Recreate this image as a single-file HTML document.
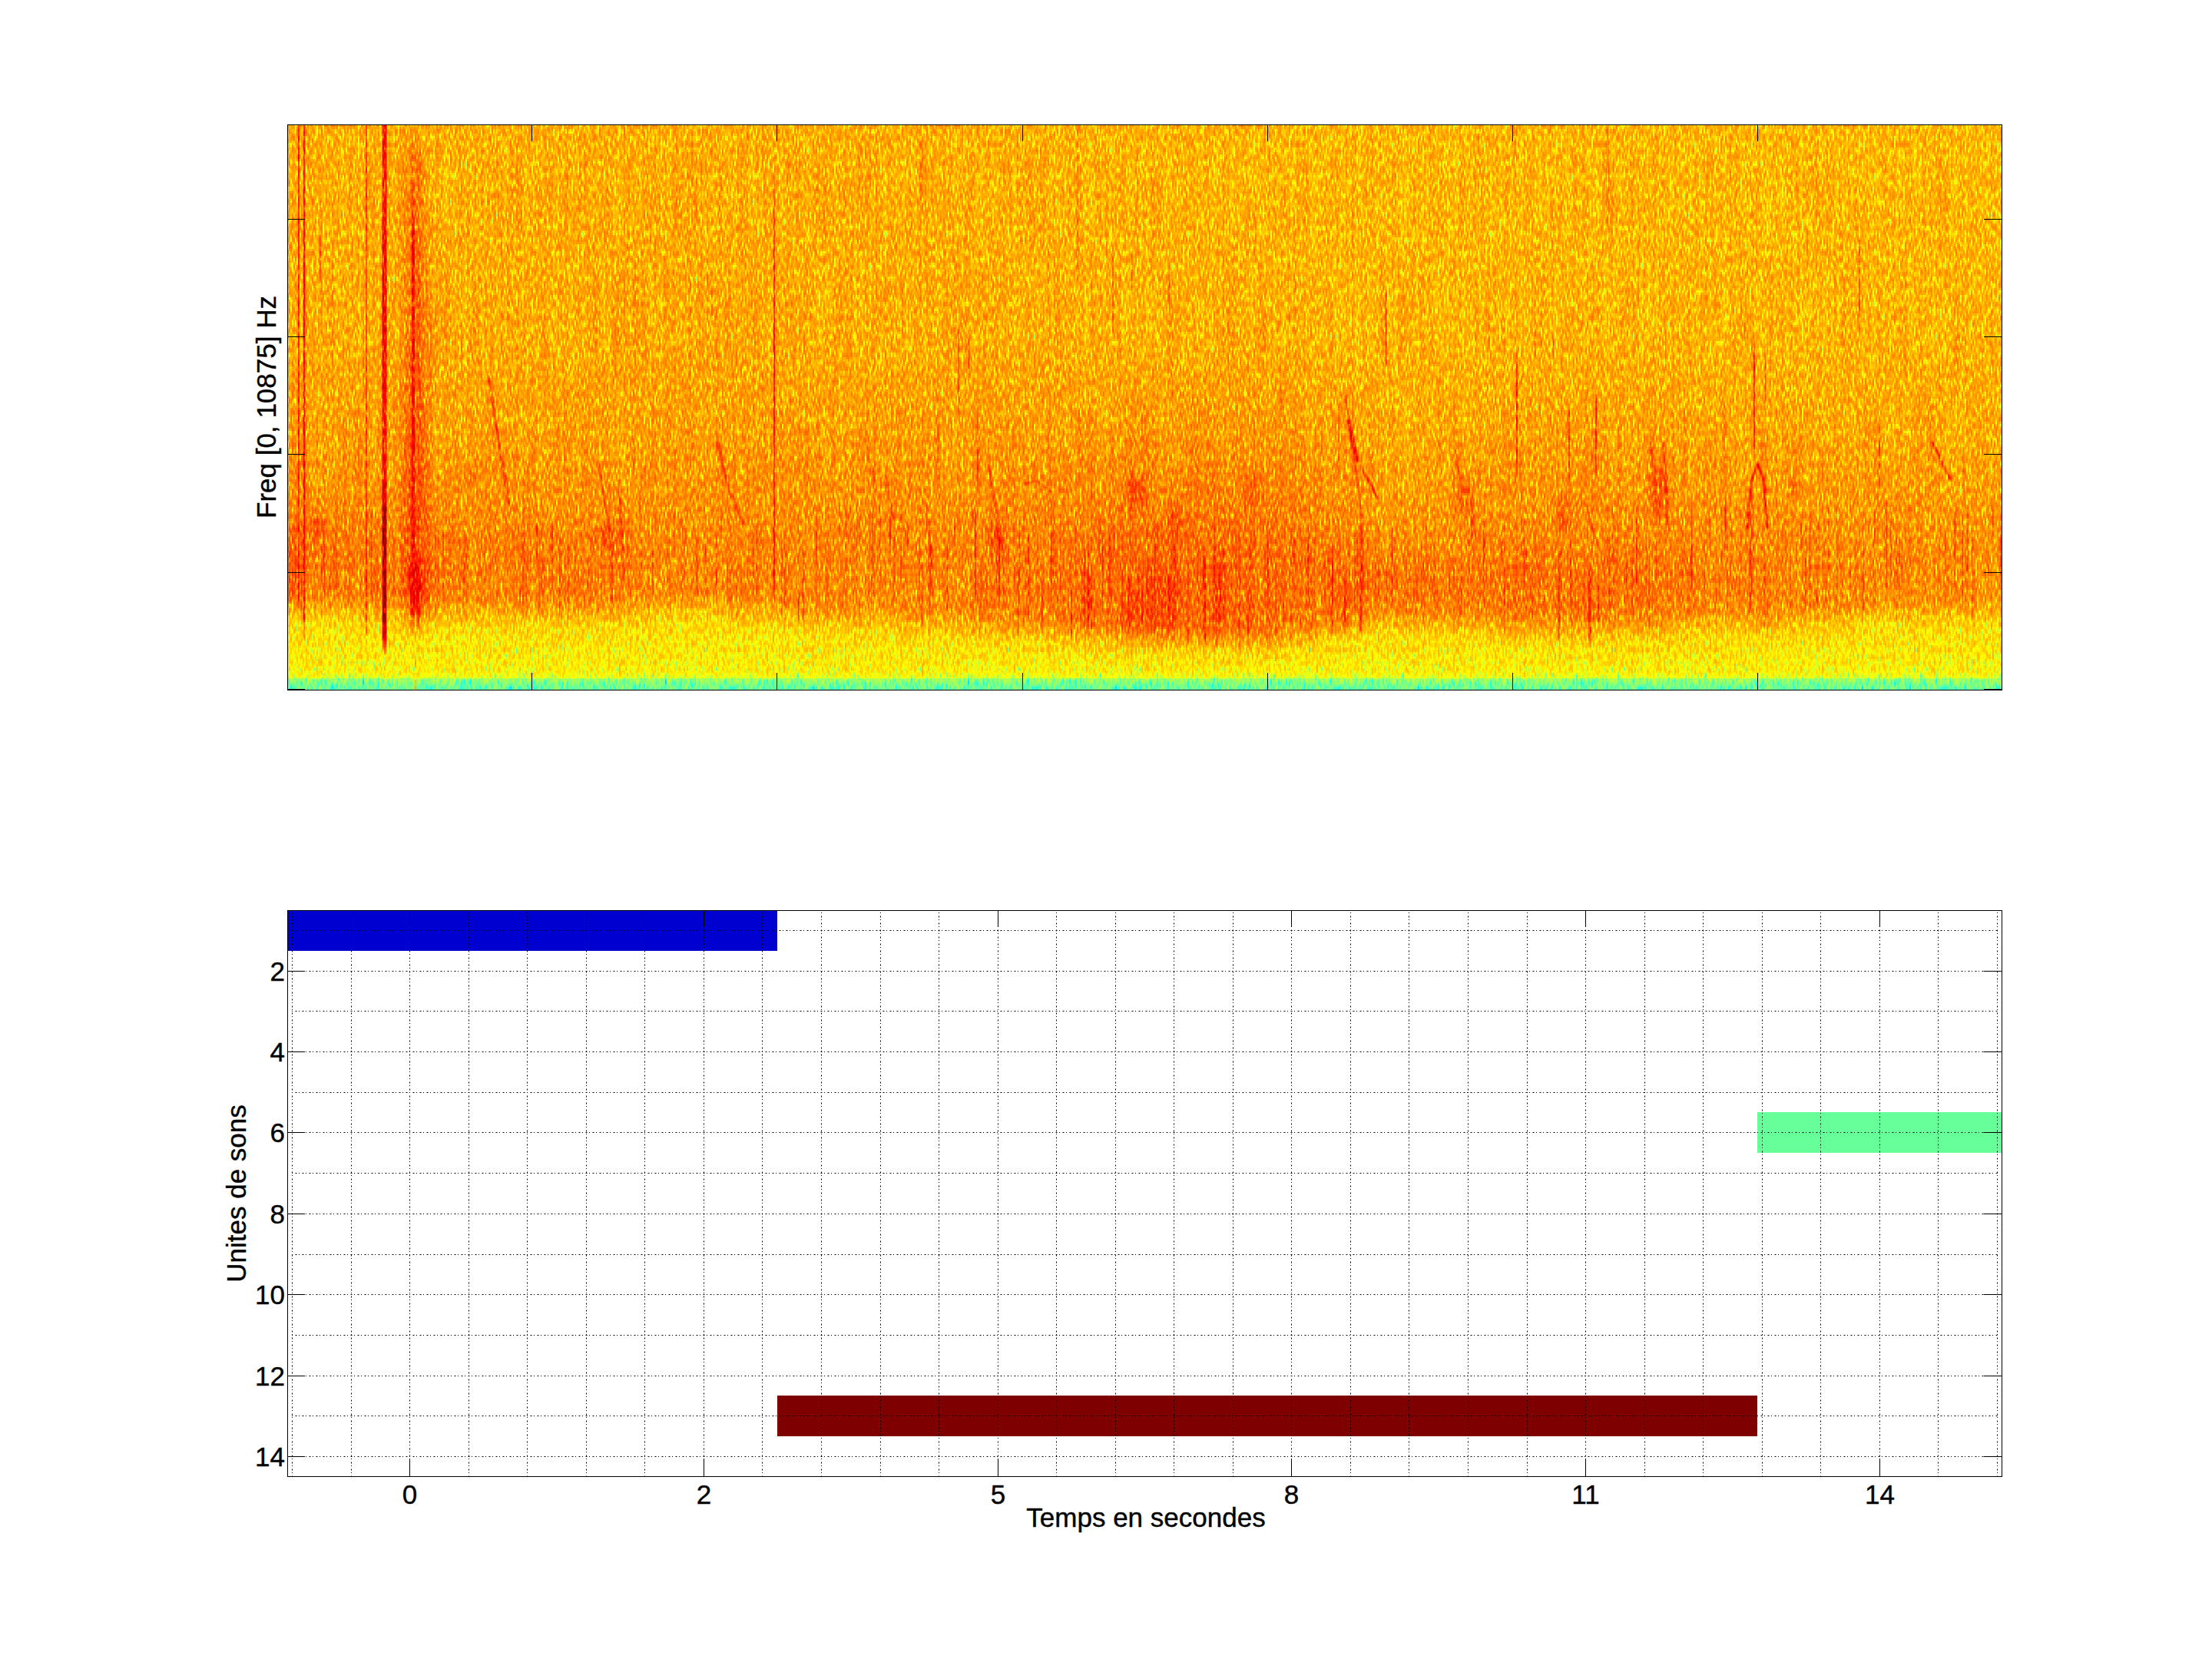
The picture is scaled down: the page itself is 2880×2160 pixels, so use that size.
<!DOCTYPE html>
<html><head><meta charset="utf-8"><style>
html,body{margin:0;padding:0;background:#fff;}
body{width:2880px;height:2160px;overflow:hidden;position:relative;}
svg{position:absolute;left:0;top:0;}
.t{font-family:"Liberation Sans",sans-serif;font-size:35px;fill:#000;stroke:#000;stroke-width:0.4px;}
</style></head><body>
<svg width="2880" height="2160" viewBox="0 0 2880 2160">
<defs>
<filter id="jet" x="374" y="162" width="2232" height="736" filterUnits="userSpaceOnUse" color-interpolation-filters="sRGB">
<feTurbulence type="fractalNoise" baseFrequency="0.65 0.12" numOctaves="1" seed="7" result="n0"/>
<feColorMatrix in="n0" type="matrix" values="1 0 0 0 0  1 0 0 0 0  1 0 0 0 0  0 0 0 0 1" result="n1"/>
<feComponentTransfer in="n1" result="n"><feFuncR type="gamma" amplitude="-1" exponent="3" offset="1"/><feFuncG type="gamma" amplitude="-1" exponent="3" offset="1"/><feFuncB type="gamma" amplitude="-1" exponent="3" offset="1"/></feComponentTransfer>
<feFlood flood-color="#fff" x="374" y="162" width="1" height="1" result="dot"/>
<feComposite in="dot" in2="dot" operator="over" x="374" y="162" width="2" height="3" result="cell"/>
<feTile in="cell" x="374" y="162" width="2232" height="736" result="grid"/>
<feComposite in="n" in2="grid" operator="in" result="samp"/>
<feOffset in="samp" dx="1" result="s1"/>
<feMerge result="row"><feMergeNode in="samp"/><feMergeNode in="s1"/></feMerge>
<feOffset in="row" dy="1" result="r1"/>
<feOffset in="row" dy="2" result="r2"/>
<feMerge result="blk"><feMergeNode in="row"/><feMergeNode in="r1"/><feMergeNode in="r2"/></feMerge>
<feFlood flood-color="#000" result="blackbg"/>
<feMerge result="blk2"><feMergeNode in="blackbg"/><feMergeNode in="blk"/></feMerge>
<feTurbulence type="fractalNoise" baseFrequency="0.25 0.006" numOctaves="2" seed="3" result="st0"/>
<feColorMatrix in="st0" type="matrix" values="1 0 0 0 0  1 0 0 0 0  1 0 0 0 0  0 0 0 0 1" result="st"/>
<feComposite in="SourceGraphic" in2="blk2" operator="arithmetic" k1="0" k2="1" k3="0.42" k4="-0.36119999999999997" result="v1"/>
<feComposite in="v1" in2="st" operator="arithmetic" k1="0" k2="1" k3="0.08" k4="-0.04" result="v"/>
<feComponentTransfer in="v">
<feFuncR type="table" tableValues="0 0 0 0 0.5 1 1 1 0.5"/>
<feFuncG type="table" tableValues="0 0 0.5 1 1 1 0.5 0 0"/>
<feFuncB type="table" tableValues="0.5 1 1 1 0.5 0 0 0 0"/>
<feFuncA type="identity"/>
</feComponentTransfer>
</filter>
<filter id="bl0" x="-50%" y="-50%" width="200%" height="200%"><feGaussianBlur stdDeviation="0.6 3"/></filter>
<filter id="bl1" x="-50%" y="-50%" width="200%" height="200%"><feGaussianBlur stdDeviation="1.2"/></filter>
<filter id="bl2" x="-50%" y="-50%" width="200%" height="200%"><feGaussianBlur stdDeviation="6"/></filter>
<filter id="bl3" x="-50%" y="-50%" width="200%" height="200%"><feGaussianBlur stdDeviation="14"/></filter>
<linearGradient id="c0" x1="0" y1="162" x2="0" y2="898" gradientUnits="userSpaceOnUse"><stop offset="0" stop-color="#b3b3b3"/><stop offset="0.39" stop-color="#b4b4b4"/><stop offset="0.54" stop-color="#b7b7b7"/><stop offset="0.72" stop-color="#bdbdbd"/><stop offset="0.77" stop-color="#bebebe"/><stop offset="0.83" stop-color="#bebebe"/><stop offset="0.88" stop-color="#a8a8a8"/><stop offset="0.97" stop-color="#a1a1a1"/><stop offset="0.98" stop-color="#969696"/><stop offset="0.98" stop-color="#888888"/><stop offset="0.99" stop-color="#7d7d7d"/><stop offset="1" stop-color="#797979"/></linearGradient>
<linearGradient id="c1" x1="0" y1="162" x2="0" y2="898" gradientUnits="userSpaceOnUse"><stop offset="0" stop-color="#b3b3b3"/><stop offset="0.39" stop-color="#b4b4b4"/><stop offset="0.54" stop-color="#b7b7b7"/><stop offset="0.72" stop-color="#bdbdbd"/><stop offset="0.77" stop-color="#bebebe"/><stop offset="0.83" stop-color="#bebebe"/><stop offset="0.88" stop-color="#a8a8a8"/><stop offset="0.97" stop-color="#a1a1a1"/><stop offset="0.98" stop-color="#969696"/><stop offset="0.98" stop-color="#888888"/><stop offset="0.99" stop-color="#7d7d7d"/><stop offset="1" stop-color="#797979"/></linearGradient>
<linearGradient id="c2" x1="0" y1="162" x2="0" y2="898" gradientUnits="userSpaceOnUse"><stop offset="0" stop-color="#b3b3b3"/><stop offset="0.39" stop-color="#b4b4b4"/><stop offset="0.54" stop-color="#b7b7b7"/><stop offset="0.72" stop-color="#bdbdbd"/><stop offset="0.77" stop-color="#bebebe"/><stop offset="0.83" stop-color="#bebebe"/><stop offset="0.88" stop-color="#a8a8a8"/><stop offset="0.97" stop-color="#a1a1a1"/><stop offset="0.98" stop-color="#969696"/><stop offset="0.98" stop-color="#888888"/><stop offset="0.99" stop-color="#7d7d7d"/><stop offset="1" stop-color="#797979"/></linearGradient>
<linearGradient id="c3" x1="0" y1="162" x2="0" y2="898" gradientUnits="userSpaceOnUse"><stop offset="0" stop-color="#b3b3b3"/><stop offset="0.39" stop-color="#b4b4b4"/><stop offset="0.54" stop-color="#b7b7b7"/><stop offset="0.72" stop-color="#bebebe"/><stop offset="0.77" stop-color="#bfbfbf"/><stop offset="0.83" stop-color="#bfbfbf"/><stop offset="0.88" stop-color="#a8a8a8"/><stop offset="0.97" stop-color="#a1a1a1"/><stop offset="0.98" stop-color="#969696"/><stop offset="0.98" stop-color="#888888"/><stop offset="0.99" stop-color="#7d7d7d"/><stop offset="1" stop-color="#797979"/></linearGradient>
<linearGradient id="c4" x1="0" y1="162" x2="0" y2="898" gradientUnits="userSpaceOnUse"><stop offset="0" stop-color="#b3b3b3"/><stop offset="0.39" stop-color="#b4b4b4"/><stop offset="0.54" stop-color="#b8b8b8"/><stop offset="0.72" stop-color="#bebebe"/><stop offset="0.77" stop-color="#bfbfbf"/><stop offset="0.83" stop-color="#bfbfbf"/><stop offset="0.89" stop-color="#a8a8a8"/><stop offset="0.97" stop-color="#a1a1a1"/><stop offset="0.98" stop-color="#969696"/><stop offset="0.98" stop-color="#888888"/><stop offset="0.99" stop-color="#7d7d7d"/><stop offset="1" stop-color="#797979"/></linearGradient>
<linearGradient id="c5" x1="0" y1="162" x2="0" y2="898" gradientUnits="userSpaceOnUse"><stop offset="0" stop-color="#b3b3b3"/><stop offset="0.39" stop-color="#b4b4b4"/><stop offset="0.54" stop-color="#b8b8b8"/><stop offset="0.72" stop-color="#bebebe"/><stop offset="0.77" stop-color="#bfbfbf"/><stop offset="0.83" stop-color="#bfbfbf"/><stop offset="0.89" stop-color="#a8a8a8"/><stop offset="0.97" stop-color="#a1a1a1"/><stop offset="0.98" stop-color="#969696"/><stop offset="0.98" stop-color="#888888"/><stop offset="0.99" stop-color="#7d7d7d"/><stop offset="1" stop-color="#797979"/></linearGradient>
<linearGradient id="c6" x1="0" y1="162" x2="0" y2="898" gradientUnits="userSpaceOnUse"><stop offset="0" stop-color="#b3b3b3"/><stop offset="0.39" stop-color="#b4b4b4"/><stop offset="0.54" stop-color="#b8b8b8"/><stop offset="0.72" stop-color="#bebebe"/><stop offset="0.77" stop-color="#bfbfbf"/><stop offset="0.83" stop-color="#bfbfbf"/><stop offset="0.89" stop-color="#a8a8a8"/><stop offset="0.97" stop-color="#a1a1a1"/><stop offset="0.98" stop-color="#969696"/><stop offset="0.98" stop-color="#888888"/><stop offset="0.99" stop-color="#7d7d7d"/><stop offset="1" stop-color="#797979"/></linearGradient>
<linearGradient id="c7" x1="0" y1="162" x2="0" y2="898" gradientUnits="userSpaceOnUse"><stop offset="0" stop-color="#b3b3b3"/><stop offset="0.39" stop-color="#b4b4b4"/><stop offset="0.54" stop-color="#b7b7b7"/><stop offset="0.72" stop-color="#bdbdbd"/><stop offset="0.77" stop-color="#bebebe"/><stop offset="0.84" stop-color="#bebebe"/><stop offset="0.89" stop-color="#a8a8a8"/><stop offset="0.97" stop-color="#a1a1a1"/><stop offset="0.98" stop-color="#969696"/><stop offset="0.98" stop-color="#888888"/><stop offset="0.99" stop-color="#7d7d7d"/><stop offset="1" stop-color="#797979"/></linearGradient>
<linearGradient id="c8" x1="0" y1="162" x2="0" y2="898" gradientUnits="userSpaceOnUse"><stop offset="0" stop-color="#b3b3b3"/><stop offset="0.39" stop-color="#b4b4b4"/><stop offset="0.54" stop-color="#b7b7b7"/><stop offset="0.72" stop-color="#bdbdbd"/><stop offset="0.77" stop-color="#bebebe"/><stop offset="0.84" stop-color="#bebebe"/><stop offset="0.89" stop-color="#a8a8a8"/><stop offset="0.97" stop-color="#a1a1a1"/><stop offset="0.98" stop-color="#969696"/><stop offset="0.98" stop-color="#888888"/><stop offset="0.99" stop-color="#7d7d7d"/><stop offset="1" stop-color="#797979"/></linearGradient>
<linearGradient id="c9" x1="0" y1="162" x2="0" y2="898" gradientUnits="userSpaceOnUse"><stop offset="0" stop-color="#b3b3b3"/><stop offset="0.39" stop-color="#b4b4b4"/><stop offset="0.54" stop-color="#b7b7b7"/><stop offset="0.72" stop-color="#bdbdbd"/><stop offset="0.77" stop-color="#bebebe"/><stop offset="0.84" stop-color="#bebebe"/><stop offset="0.89" stop-color="#a8a8a8"/><stop offset="0.97" stop-color="#a1a1a1"/><stop offset="0.98" stop-color="#969696"/><stop offset="0.98" stop-color="#888888"/><stop offset="0.99" stop-color="#7d7d7d"/><stop offset="1" stop-color="#797979"/></linearGradient>
<linearGradient id="c10" x1="0" y1="162" x2="0" y2="898" gradientUnits="userSpaceOnUse"><stop offset="0" stop-color="#b3b3b3"/><stop offset="0.39" stop-color="#b4b4b4"/><stop offset="0.54" stop-color="#b7b7b7"/><stop offset="0.72" stop-color="#bdbdbd"/><stop offset="0.77" stop-color="#bebebe"/><stop offset="0.84" stop-color="#bebebe"/><stop offset="0.89" stop-color="#a8a8a8"/><stop offset="0.97" stop-color="#a1a1a1"/><stop offset="0.98" stop-color="#969696"/><stop offset="0.98" stop-color="#888888"/><stop offset="0.99" stop-color="#7d7d7d"/><stop offset="1" stop-color="#797979"/></linearGradient>
<linearGradient id="c11" x1="0" y1="162" x2="0" y2="898" gradientUnits="userSpaceOnUse"><stop offset="0" stop-color="#b3b3b3"/><stop offset="0.39" stop-color="#b4b4b4"/><stop offset="0.54" stop-color="#b7b7b7"/><stop offset="0.72" stop-color="#bdbdbd"/><stop offset="0.77" stop-color="#bebebe"/><stop offset="0.84" stop-color="#bebebe"/><stop offset="0.89" stop-color="#a8a8a8"/><stop offset="0.97" stop-color="#a1a1a1"/><stop offset="0.98" stop-color="#969696"/><stop offset="0.98" stop-color="#888888"/><stop offset="0.99" stop-color="#7d7d7d"/><stop offset="1" stop-color="#797979"/></linearGradient>
<linearGradient id="c12" x1="0" y1="162" x2="0" y2="898" gradientUnits="userSpaceOnUse"><stop offset="0" stop-color="#b3b3b3"/><stop offset="0.39" stop-color="#b4b4b4"/><stop offset="0.54" stop-color="#b7b7b7"/><stop offset="0.72" stop-color="#bdbdbd"/><stop offset="0.77" stop-color="#bebebe"/><stop offset="0.84" stop-color="#bebebe"/><stop offset="0.89" stop-color="#a8a8a8"/><stop offset="0.97" stop-color="#a1a1a1"/><stop offset="0.98" stop-color="#969696"/><stop offset="0.98" stop-color="#888888"/><stop offset="0.99" stop-color="#7d7d7d"/><stop offset="1" stop-color="#797979"/></linearGradient>
<linearGradient id="c13" x1="0" y1="162" x2="0" y2="898" gradientUnits="userSpaceOnUse"><stop offset="0" stop-color="#b3b3b3"/><stop offset="0.39" stop-color="#b4b4b4"/><stop offset="0.54" stop-color="#b7b7b7"/><stop offset="0.72" stop-color="#bcbcbc"/><stop offset="0.77" stop-color="#bebebe"/><stop offset="0.84" stop-color="#bebebe"/><stop offset="0.89" stop-color="#a8a8a8"/><stop offset="0.97" stop-color="#a1a1a1"/><stop offset="0.98" stop-color="#969696"/><stop offset="0.98" stop-color="#888888"/><stop offset="0.99" stop-color="#7d7d7d"/><stop offset="1" stop-color="#797979"/></linearGradient>
<linearGradient id="c14" x1="0" y1="162" x2="0" y2="898" gradientUnits="userSpaceOnUse"><stop offset="0" stop-color="#b3b3b3"/><stop offset="0.39" stop-color="#b4b4b4"/><stop offset="0.54" stop-color="#b7b7b7"/><stop offset="0.72" stop-color="#bcbcbc"/><stop offset="0.77" stop-color="#bdbdbd"/><stop offset="0.84" stop-color="#bdbdbd"/><stop offset="0.89" stop-color="#a8a8a8"/><stop offset="0.97" stop-color="#a1a1a1"/><stop offset="0.98" stop-color="#969696"/><stop offset="0.98" stop-color="#888888"/><stop offset="0.99" stop-color="#7d7d7d"/><stop offset="1" stop-color="#797979"/></linearGradient>
<linearGradient id="c15" x1="0" y1="162" x2="0" y2="898" gradientUnits="userSpaceOnUse"><stop offset="0" stop-color="#b3b3b3"/><stop offset="0.39" stop-color="#b4b4b4"/><stop offset="0.54" stop-color="#b7b7b7"/><stop offset="0.72" stop-color="#bcbcbc"/><stop offset="0.77" stop-color="#bdbdbd"/><stop offset="0.84" stop-color="#bdbdbd"/><stop offset="0.89" stop-color="#a8a8a8"/><stop offset="0.97" stop-color="#a1a1a1"/><stop offset="0.98" stop-color="#969696"/><stop offset="0.98" stop-color="#888888"/><stop offset="0.99" stop-color="#7d7d7d"/><stop offset="1" stop-color="#797979"/></linearGradient>
<linearGradient id="c16" x1="0" y1="162" x2="0" y2="898" gradientUnits="userSpaceOnUse"><stop offset="0" stop-color="#b3b3b3"/><stop offset="0.39" stop-color="#b5b5b5"/><stop offset="0.54" stop-color="#b7b7b7"/><stop offset="0.72" stop-color="#bcbcbc"/><stop offset="0.77" stop-color="#bdbdbd"/><stop offset="0.84" stop-color="#bdbdbd"/><stop offset="0.89" stop-color="#a8a8a8"/><stop offset="0.97" stop-color="#a1a1a1"/><stop offset="0.98" stop-color="#969696"/><stop offset="0.98" stop-color="#888888"/><stop offset="0.99" stop-color="#7d7d7d"/><stop offset="1" stop-color="#797979"/></linearGradient>
<linearGradient id="c17" x1="0" y1="162" x2="0" y2="898" gradientUnits="userSpaceOnUse"><stop offset="0" stop-color="#b3b3b3"/><stop offset="0.39" stop-color="#b5b5b5"/><stop offset="0.54" stop-color="#b7b7b7"/><stop offset="0.72" stop-color="#bcbcbc"/><stop offset="0.77" stop-color="#bdbdbd"/><stop offset="0.84" stop-color="#bdbdbd"/><stop offset="0.89" stop-color="#a8a8a8"/><stop offset="0.97" stop-color="#a1a1a1"/><stop offset="0.98" stop-color="#969696"/><stop offset="0.98" stop-color="#888888"/><stop offset="0.99" stop-color="#7d7d7d"/><stop offset="1" stop-color="#797979"/></linearGradient>
<linearGradient id="c18" x1="0" y1="162" x2="0" y2="898" gradientUnits="userSpaceOnUse"><stop offset="0" stop-color="#b3b3b3"/><stop offset="0.39" stop-color="#b5b5b5"/><stop offset="0.54" stop-color="#b7b7b7"/><stop offset="0.72" stop-color="#bcbcbc"/><stop offset="0.77" stop-color="#bdbdbd"/><stop offset="0.83" stop-color="#bdbdbd"/><stop offset="0.89" stop-color="#a8a8a8"/><stop offset="0.97" stop-color="#a1a1a1"/><stop offset="0.98" stop-color="#969696"/><stop offset="0.98" stop-color="#888888"/><stop offset="0.99" stop-color="#7d7d7d"/><stop offset="1" stop-color="#797979"/></linearGradient>
<linearGradient id="c19" x1="0" y1="162" x2="0" y2="898" gradientUnits="userSpaceOnUse"><stop offset="0" stop-color="#b3b3b3"/><stop offset="0.39" stop-color="#b5b5b5"/><stop offset="0.54" stop-color="#b7b7b7"/><stop offset="0.72" stop-color="#bcbcbc"/><stop offset="0.77" stop-color="#bdbdbd"/><stop offset="0.83" stop-color="#bdbdbd"/><stop offset="0.89" stop-color="#a8a8a8"/><stop offset="0.97" stop-color="#a1a1a1"/><stop offset="0.98" stop-color="#969696"/><stop offset="0.98" stop-color="#888888"/><stop offset="0.99" stop-color="#7d7d7d"/><stop offset="1" stop-color="#797979"/></linearGradient>
<linearGradient id="c20" x1="0" y1="162" x2="0" y2="898" gradientUnits="userSpaceOnUse"><stop offset="0" stop-color="#b3b3b3"/><stop offset="0.39" stop-color="#b5b5b5"/><stop offset="0.54" stop-color="#b7b7b7"/><stop offset="0.72" stop-color="#bcbcbc"/><stop offset="0.77" stop-color="#bdbdbd"/><stop offset="0.83" stop-color="#bdbdbd"/><stop offset="0.88" stop-color="#a8a8a8"/><stop offset="0.97" stop-color="#a1a1a1"/><stop offset="0.98" stop-color="#969696"/><stop offset="0.98" stop-color="#888888"/><stop offset="0.99" stop-color="#7d7d7d"/><stop offset="1" stop-color="#797979"/></linearGradient>
<linearGradient id="c21" x1="0" y1="162" x2="0" y2="898" gradientUnits="userSpaceOnUse"><stop offset="0" stop-color="#b4b4b4"/><stop offset="0.39" stop-color="#b5b5b5"/><stop offset="0.54" stop-color="#b7b7b7"/><stop offset="0.72" stop-color="#bcbcbc"/><stop offset="0.77" stop-color="#bdbdbd"/><stop offset="0.83" stop-color="#bdbdbd"/><stop offset="0.88" stop-color="#a8a8a8"/><stop offset="0.97" stop-color="#a1a1a1"/><stop offset="0.98" stop-color="#969696"/><stop offset="0.98" stop-color="#888888"/><stop offset="0.99" stop-color="#7d7d7d"/><stop offset="1" stop-color="#797979"/></linearGradient>
<linearGradient id="c22" x1="0" y1="162" x2="0" y2="898" gradientUnits="userSpaceOnUse"><stop offset="0" stop-color="#b3b3b3"/><stop offset="0.39" stop-color="#b5b5b5"/><stop offset="0.54" stop-color="#b7b7b7"/><stop offset="0.72" stop-color="#bcbcbc"/><stop offset="0.77" stop-color="#bdbdbd"/><stop offset="0.83" stop-color="#bdbdbd"/><stop offset="0.88" stop-color="#a8a8a8"/><stop offset="0.97" stop-color="#a1a1a1"/><stop offset="0.98" stop-color="#969696"/><stop offset="0.98" stop-color="#888888"/><stop offset="0.99" stop-color="#7d7d7d"/><stop offset="1" stop-color="#797979"/></linearGradient>
<linearGradient id="c23" x1="0" y1="162" x2="0" y2="898" gradientUnits="userSpaceOnUse"><stop offset="0" stop-color="#b3b3b3"/><stop offset="0.39" stop-color="#b5b5b5"/><stop offset="0.54" stop-color="#b7b7b7"/><stop offset="0.72" stop-color="#bcbcbc"/><stop offset="0.77" stop-color="#bdbdbd"/><stop offset="0.83" stop-color="#bdbdbd"/><stop offset="0.88" stop-color="#a8a8a8"/><stop offset="0.97" stop-color="#a1a1a1"/><stop offset="0.98" stop-color="#969696"/><stop offset="0.98" stop-color="#888888"/><stop offset="0.99" stop-color="#7d7d7d"/><stop offset="1" stop-color="#797979"/></linearGradient>
<linearGradient id="c24" x1="0" y1="162" x2="0" y2="898" gradientUnits="userSpaceOnUse"><stop offset="0" stop-color="#b3b3b3"/><stop offset="0.39" stop-color="#b5b5b5"/><stop offset="0.54" stop-color="#b7b7b7"/><stop offset="0.72" stop-color="#bcbcbc"/><stop offset="0.77" stop-color="#bdbdbd"/><stop offset="0.83" stop-color="#bdbdbd"/><stop offset="0.89" stop-color="#a8a8a8"/><stop offset="0.97" stop-color="#a1a1a1"/><stop offset="0.98" stop-color="#969696"/><stop offset="0.98" stop-color="#888888"/><stop offset="0.99" stop-color="#7d7d7d"/><stop offset="1" stop-color="#797979"/></linearGradient>
<linearGradient id="c25" x1="0" y1="162" x2="0" y2="898" gradientUnits="userSpaceOnUse"><stop offset="0" stop-color="#b3b3b3"/><stop offset="0.39" stop-color="#b5b5b5"/><stop offset="0.54" stop-color="#b7b7b7"/><stop offset="0.72" stop-color="#bcbcbc"/><stop offset="0.77" stop-color="#bdbdbd"/><stop offset="0.84" stop-color="#bdbdbd"/><stop offset="0.89" stop-color="#a8a8a8"/><stop offset="0.97" stop-color="#a1a1a1"/><stop offset="0.98" stop-color="#969696"/><stop offset="0.98" stop-color="#888888"/><stop offset="0.99" stop-color="#7d7d7d"/><stop offset="1" stop-color="#797979"/></linearGradient>
<linearGradient id="c26" x1="0" y1="162" x2="0" y2="898" gradientUnits="userSpaceOnUse"><stop offset="0" stop-color="#b3b3b3"/><stop offset="0.39" stop-color="#b5b5b5"/><stop offset="0.54" stop-color="#b7b7b7"/><stop offset="0.72" stop-color="#bcbcbc"/><stop offset="0.77" stop-color="#bdbdbd"/><stop offset="0.84" stop-color="#bdbdbd"/><stop offset="0.89" stop-color="#a8a8a8"/><stop offset="0.97" stop-color="#a1a1a1"/><stop offset="0.98" stop-color="#969696"/><stop offset="0.98" stop-color="#888888"/><stop offset="0.99" stop-color="#7d7d7d"/><stop offset="1" stop-color="#797979"/></linearGradient>
<linearGradient id="c27" x1="0" y1="162" x2="0" y2="898" gradientUnits="userSpaceOnUse"><stop offset="0" stop-color="#b3b3b3"/><stop offset="0.39" stop-color="#b4b4b4"/><stop offset="0.54" stop-color="#b7b7b7"/><stop offset="0.72" stop-color="#bcbcbc"/><stop offset="0.77" stop-color="#bdbdbd"/><stop offset="0.84" stop-color="#bdbdbd"/><stop offset="0.89" stop-color="#a8a8a8"/><stop offset="0.97" stop-color="#a1a1a1"/><stop offset="0.98" stop-color="#969696"/><stop offset="0.98" stop-color="#888888"/><stop offset="0.99" stop-color="#7d7d7d"/><stop offset="1" stop-color="#797979"/></linearGradient>
<linearGradient id="c28" x1="0" y1="162" x2="0" y2="898" gradientUnits="userSpaceOnUse"><stop offset="0" stop-color="#b3b3b3"/><stop offset="0.39" stop-color="#b4b4b4"/><stop offset="0.54" stop-color="#b7b7b7"/><stop offset="0.72" stop-color="#bcbcbc"/><stop offset="0.77" stop-color="#bdbdbd"/><stop offset="0.84" stop-color="#bdbdbd"/><stop offset="0.9" stop-color="#a8a8a8"/><stop offset="0.97" stop-color="#a1a1a1"/><stop offset="0.98" stop-color="#969696"/><stop offset="0.98" stop-color="#888888"/><stop offset="0.99" stop-color="#7d7d7d"/><stop offset="1" stop-color="#797979"/></linearGradient>
<linearGradient id="c29" x1="0" y1="162" x2="0" y2="898" gradientUnits="userSpaceOnUse"><stop offset="0" stop-color="#b3b3b3"/><stop offset="0.39" stop-color="#b4b4b4"/><stop offset="0.54" stop-color="#b7b7b7"/><stop offset="0.72" stop-color="#bcbcbc"/><stop offset="0.77" stop-color="#bdbdbd"/><stop offset="0.85" stop-color="#bdbdbd"/><stop offset="0.9" stop-color="#a8a8a8"/><stop offset="0.97" stop-color="#a1a1a1"/><stop offset="0.98" stop-color="#969696"/><stop offset="0.98" stop-color="#888888"/><stop offset="0.99" stop-color="#7d7d7d"/><stop offset="1" stop-color="#797979"/></linearGradient>
<linearGradient id="c30" x1="0" y1="162" x2="0" y2="898" gradientUnits="userSpaceOnUse"><stop offset="0" stop-color="#b3b3b3"/><stop offset="0.39" stop-color="#b4b4b4"/><stop offset="0.54" stop-color="#b7b7b7"/><stop offset="0.72" stop-color="#bcbcbc"/><stop offset="0.77" stop-color="#bdbdbd"/><stop offset="0.85" stop-color="#bdbdbd"/><stop offset="0.9" stop-color="#a8a8a8"/><stop offset="0.97" stop-color="#a1a1a1"/><stop offset="0.98" stop-color="#969696"/><stop offset="0.98" stop-color="#888888"/><stop offset="0.99" stop-color="#7d7d7d"/><stop offset="1" stop-color="#797979"/></linearGradient>
<linearGradient id="c31" x1="0" y1="162" x2="0" y2="898" gradientUnits="userSpaceOnUse"><stop offset="0" stop-color="#b3b3b3"/><stop offset="0.39" stop-color="#b4b4b4"/><stop offset="0.54" stop-color="#b7b7b7"/><stop offset="0.72" stop-color="#bcbcbc"/><stop offset="0.77" stop-color="#bdbdbd"/><stop offset="0.85" stop-color="#bdbdbd"/><stop offset="0.9" stop-color="#a8a8a8"/><stop offset="0.97" stop-color="#a1a1a1"/><stop offset="0.98" stop-color="#969696"/><stop offset="0.98" stop-color="#888888"/><stop offset="0.99" stop-color="#7d7d7d"/><stop offset="1" stop-color="#797979"/></linearGradient>
<linearGradient id="c32" x1="0" y1="162" x2="0" y2="898" gradientUnits="userSpaceOnUse"><stop offset="0" stop-color="#b3b3b3"/><stop offset="0.39" stop-color="#b4b4b4"/><stop offset="0.54" stop-color="#b7b7b7"/><stop offset="0.72" stop-color="#bcbcbc"/><stop offset="0.77" stop-color="#bdbdbd"/><stop offset="0.85" stop-color="#bdbdbd"/><stop offset="0.9" stop-color="#a8a8a8"/><stop offset="0.97" stop-color="#a1a1a1"/><stop offset="0.98" stop-color="#969696"/><stop offset="0.98" stop-color="#888888"/><stop offset="0.99" stop-color="#7d7d7d"/><stop offset="1" stop-color="#797979"/></linearGradient>
<linearGradient id="c33" x1="0" y1="162" x2="0" y2="898" gradientUnits="userSpaceOnUse"><stop offset="0" stop-color="#b3b3b3"/><stop offset="0.39" stop-color="#b4b4b4"/><stop offset="0.54" stop-color="#b7b7b7"/><stop offset="0.72" stop-color="#bcbcbc"/><stop offset="0.77" stop-color="#bdbdbd"/><stop offset="0.86" stop-color="#bdbdbd"/><stop offset="0.91" stop-color="#a8a8a8"/><stop offset="0.97" stop-color="#a1a1a1"/><stop offset="0.98" stop-color="#969696"/><stop offset="0.98" stop-color="#888888"/><stop offset="0.99" stop-color="#7d7d7d"/><stop offset="1" stop-color="#797979"/></linearGradient>
<linearGradient id="c34" x1="0" y1="162" x2="0" y2="898" gradientUnits="userSpaceOnUse"><stop offset="0" stop-color="#b3b3b3"/><stop offset="0.39" stop-color="#b4b4b4"/><stop offset="0.54" stop-color="#b7b7b7"/><stop offset="0.72" stop-color="#bcbcbc"/><stop offset="0.77" stop-color="#bdbdbd"/><stop offset="0.86" stop-color="#bdbdbd"/><stop offset="0.91" stop-color="#a8a8a8"/><stop offset="0.97" stop-color="#a1a1a1"/><stop offset="0.98" stop-color="#969696"/><stop offset="0.98" stop-color="#888888"/><stop offset="0.99" stop-color="#7d7d7d"/><stop offset="1" stop-color="#797979"/></linearGradient>
<linearGradient id="c35" x1="0" y1="162" x2="0" y2="898" gradientUnits="userSpaceOnUse"><stop offset="0" stop-color="#b3b3b3"/><stop offset="0.39" stop-color="#b4b4b4"/><stop offset="0.54" stop-color="#b7b7b7"/><stop offset="0.72" stop-color="#bcbcbc"/><stop offset="0.77" stop-color="#bdbdbd"/><stop offset="0.86" stop-color="#bdbdbd"/><stop offset="0.91" stop-color="#a8a8a8"/><stop offset="0.97" stop-color="#a1a1a1"/><stop offset="0.98" stop-color="#969696"/><stop offset="0.98" stop-color="#888888"/><stop offset="0.99" stop-color="#7d7d7d"/><stop offset="1" stop-color="#797979"/></linearGradient>
<linearGradient id="c36" x1="0" y1="162" x2="0" y2="898" gradientUnits="userSpaceOnUse"><stop offset="0" stop-color="#b3b3b3"/><stop offset="0.39" stop-color="#b4b4b4"/><stop offset="0.54" stop-color="#b7b7b7"/><stop offset="0.72" stop-color="#bcbcbc"/><stop offset="0.77" stop-color="#bdbdbd"/><stop offset="0.86" stop-color="#bdbdbd"/><stop offset="0.91" stop-color="#a8a8a8"/><stop offset="0.97" stop-color="#a1a1a1"/><stop offset="0.98" stop-color="#969696"/><stop offset="0.98" stop-color="#888888"/><stop offset="0.99" stop-color="#7d7d7d"/><stop offset="1" stop-color="#797979"/></linearGradient>
<linearGradient id="c37" x1="0" y1="162" x2="0" y2="898" gradientUnits="userSpaceOnUse"><stop offset="0" stop-color="#b3b3b3"/><stop offset="0.39" stop-color="#b4b4b4"/><stop offset="0.54" stop-color="#b7b7b7"/><stop offset="0.72" stop-color="#bcbcbc"/><stop offset="0.77" stop-color="#bdbdbd"/><stop offset="0.86" stop-color="#bdbdbd"/><stop offset="0.92" stop-color="#a8a8a8"/><stop offset="0.97" stop-color="#a1a1a1"/><stop offset="0.98" stop-color="#969696"/><stop offset="0.98" stop-color="#888888"/><stop offset="0.99" stop-color="#7d7d7d"/><stop offset="1" stop-color="#797979"/></linearGradient>
<linearGradient id="c38" x1="0" y1="162" x2="0" y2="898" gradientUnits="userSpaceOnUse"><stop offset="0" stop-color="#b3b3b3"/><stop offset="0.39" stop-color="#b4b4b4"/><stop offset="0.54" stop-color="#b7b7b7"/><stop offset="0.72" stop-color="#bcbcbc"/><stop offset="0.77" stop-color="#bdbdbd"/><stop offset="0.87" stop-color="#bdbdbd"/><stop offset="0.92" stop-color="#a8a8a8"/><stop offset="0.97" stop-color="#a1a1a1"/><stop offset="0.98" stop-color="#969696"/><stop offset="0.98" stop-color="#888888"/><stop offset="0.99" stop-color="#7d7d7d"/><stop offset="1" stop-color="#797979"/></linearGradient>
<linearGradient id="c39" x1="0" y1="162" x2="0" y2="898" gradientUnits="userSpaceOnUse"><stop offset="0" stop-color="#b2b2b2"/><stop offset="0.39" stop-color="#b4b4b4"/><stop offset="0.54" stop-color="#b7b7b7"/><stop offset="0.72" stop-color="#bdbdbd"/><stop offset="0.77" stop-color="#bebebe"/><stop offset="0.87" stop-color="#bebebe"/><stop offset="0.92" stop-color="#a8a8a8"/><stop offset="0.97" stop-color="#a1a1a1"/><stop offset="0.98" stop-color="#969696"/><stop offset="0.98" stop-color="#888888"/><stop offset="0.99" stop-color="#7d7d7d"/><stop offset="1" stop-color="#797979"/></linearGradient>
<linearGradient id="c40" x1="0" y1="162" x2="0" y2="898" gradientUnits="userSpaceOnUse"><stop offset="0" stop-color="#b2b2b2"/><stop offset="0.39" stop-color="#b4b4b4"/><stop offset="0.54" stop-color="#b7b7b7"/><stop offset="0.72" stop-color="#bdbdbd"/><stop offset="0.77" stop-color="#bfbfbf"/><stop offset="0.87" stop-color="#bfbfbf"/><stop offset="0.92" stop-color="#a8a8a8"/><stop offset="0.97" stop-color="#a1a1a1"/><stop offset="0.98" stop-color="#969696"/><stop offset="0.98" stop-color="#888888"/><stop offset="0.99" stop-color="#7d7d7d"/><stop offset="1" stop-color="#797979"/></linearGradient>
<linearGradient id="c41" x1="0" y1="162" x2="0" y2="898" gradientUnits="userSpaceOnUse"><stop offset="0" stop-color="#b2b2b2"/><stop offset="0.39" stop-color="#b4b4b4"/><stop offset="0.54" stop-color="#b8b8b8"/><stop offset="0.72" stop-color="#bebebe"/><stop offset="0.77" stop-color="#bfbfbf"/><stop offset="0.87" stop-color="#bfbfbf"/><stop offset="0.93" stop-color="#a8a8a8"/><stop offset="0.97" stop-color="#a1a1a1"/><stop offset="0.98" stop-color="#969696"/><stop offset="0.98" stop-color="#888888"/><stop offset="0.99" stop-color="#7d7d7d"/><stop offset="1" stop-color="#797979"/></linearGradient>
<linearGradient id="c42" x1="0" y1="162" x2="0" y2="898" gradientUnits="userSpaceOnUse"><stop offset="0" stop-color="#b2b2b2"/><stop offset="0.39" stop-color="#b3b3b3"/><stop offset="0.54" stop-color="#b8b8b8"/><stop offset="0.72" stop-color="#bfbfbf"/><stop offset="0.77" stop-color="#c0c0c0"/><stop offset="0.88" stop-color="#c0c0c0"/><stop offset="0.93" stop-color="#a8a8a8"/><stop offset="0.97" stop-color="#a1a1a1"/><stop offset="0.98" stop-color="#969696"/><stop offset="0.98" stop-color="#888888"/><stop offset="0.99" stop-color="#7d7d7d"/><stop offset="1" stop-color="#797979"/></linearGradient>
<linearGradient id="c43" x1="0" y1="162" x2="0" y2="898" gradientUnits="userSpaceOnUse"><stop offset="0" stop-color="#b2b2b2"/><stop offset="0.39" stop-color="#b3b3b3"/><stop offset="0.54" stop-color="#b8b8b8"/><stop offset="0.72" stop-color="#bfbfbf"/><stop offset="0.77" stop-color="#c1c1c1"/><stop offset="0.88" stop-color="#c1c1c1"/><stop offset="0.93" stop-color="#a8a8a8"/><stop offset="0.97" stop-color="#a1a1a1"/><stop offset="0.98" stop-color="#969696"/><stop offset="0.98" stop-color="#888888"/><stop offset="0.99" stop-color="#7d7d7d"/><stop offset="1" stop-color="#797979"/></linearGradient>
<linearGradient id="c44" x1="0" y1="162" x2="0" y2="898" gradientUnits="userSpaceOnUse"><stop offset="0" stop-color="#b2b2b2"/><stop offset="0.39" stop-color="#b3b3b3"/><stop offset="0.54" stop-color="#b8b8b8"/><stop offset="0.72" stop-color="#c0c0c0"/><stop offset="0.77" stop-color="#c2c2c2"/><stop offset="0.88" stop-color="#c2c2c2"/><stop offset="0.93" stop-color="#a8a8a8"/><stop offset="0.97" stop-color="#a1a1a1"/><stop offset="0.98" stop-color="#969696"/><stop offset="0.98" stop-color="#888888"/><stop offset="0.99" stop-color="#7d7d7d"/><stop offset="1" stop-color="#797979"/></linearGradient>
<linearGradient id="c45" x1="0" y1="162" x2="0" y2="898" gradientUnits="userSpaceOnUse"><stop offset="0" stop-color="#b2b2b2"/><stop offset="0.39" stop-color="#b3b3b3"/><stop offset="0.54" stop-color="#b9b9b9"/><stop offset="0.72" stop-color="#c1c1c1"/><stop offset="0.77" stop-color="#c2c2c2"/><stop offset="0.88" stop-color="#c2c2c2"/><stop offset="0.94" stop-color="#a8a8a8"/><stop offset="0.97" stop-color="#a1a1a1"/><stop offset="0.98" stop-color="#969696"/><stop offset="0.98" stop-color="#888888"/><stop offset="0.99" stop-color="#7d7d7d"/><stop offset="1" stop-color="#797979"/></linearGradient>
<linearGradient id="c46" x1="0" y1="162" x2="0" y2="898" gradientUnits="userSpaceOnUse"><stop offset="0" stop-color="#b2b2b2"/><stop offset="0.39" stop-color="#b3b3b3"/><stop offset="0.54" stop-color="#b9b9b9"/><stop offset="0.72" stop-color="#c1c1c1"/><stop offset="0.77" stop-color="#c3c3c3"/><stop offset="0.89" stop-color="#c3c3c3"/><stop offset="0.94" stop-color="#a8a8a8"/><stop offset="0.97" stop-color="#a1a1a1"/><stop offset="0.98" stop-color="#969696"/><stop offset="0.98" stop-color="#888888"/><stop offset="0.99" stop-color="#7d7d7d"/><stop offset="1" stop-color="#797979"/></linearGradient>
<linearGradient id="c47" x1="0" y1="162" x2="0" y2="898" gradientUnits="userSpaceOnUse"><stop offset="0" stop-color="#b2b2b2"/><stop offset="0.39" stop-color="#b3b3b3"/><stop offset="0.54" stop-color="#b9b9b9"/><stop offset="0.72" stop-color="#c2c2c2"/><stop offset="0.77" stop-color="#c3c3c3"/><stop offset="0.89" stop-color="#c3c3c3"/><stop offset="0.94" stop-color="#a8a8a8"/><stop offset="0.97" stop-color="#a1a1a1"/><stop offset="0.98" stop-color="#969696"/><stop offset="0.98" stop-color="#888888"/><stop offset="0.99" stop-color="#7d7d7d"/><stop offset="1" stop-color="#797979"/></linearGradient>
<linearGradient id="c48" x1="0" y1="162" x2="0" y2="898" gradientUnits="userSpaceOnUse"><stop offset="0" stop-color="#b2b2b2"/><stop offset="0.39" stop-color="#b3b3b3"/><stop offset="0.54" stop-color="#b9b9b9"/><stop offset="0.72" stop-color="#c2c2c2"/><stop offset="0.77" stop-color="#c3c3c3"/><stop offset="0.89" stop-color="#c3c3c3"/><stop offset="0.94" stop-color="#a8a8a8"/><stop offset="0.97" stop-color="#a1a1a1"/><stop offset="0.98" stop-color="#969696"/><stop offset="0.98" stop-color="#888888"/><stop offset="0.99" stop-color="#7d7d7d"/><stop offset="1" stop-color="#797979"/></linearGradient>
<linearGradient id="c49" x1="0" y1="162" x2="0" y2="898" gradientUnits="userSpaceOnUse"><stop offset="0" stop-color="#b2b2b2"/><stop offset="0.39" stop-color="#b3b3b3"/><stop offset="0.54" stop-color="#b9b9b9"/><stop offset="0.72" stop-color="#c2c2c2"/><stop offset="0.77" stop-color="#c4c4c4"/><stop offset="0.89" stop-color="#c4c4c4"/><stop offset="0.94" stop-color="#a8a8a8"/><stop offset="0.97" stop-color="#a1a1a1"/><stop offset="0.98" stop-color="#969696"/><stop offset="0.98" stop-color="#888888"/><stop offset="0.99" stop-color="#7d7d7d"/><stop offset="1" stop-color="#797979"/></linearGradient>
<linearGradient id="c50" x1="0" y1="162" x2="0" y2="898" gradientUnits="userSpaceOnUse"><stop offset="0" stop-color="#b2b2b2"/><stop offset="0.39" stop-color="#b3b3b3"/><stop offset="0.54" stop-color="#b9b9b9"/><stop offset="0.72" stop-color="#c2c2c2"/><stop offset="0.77" stop-color="#c4c4c4"/><stop offset="0.89" stop-color="#c4c4c4"/><stop offset="0.94" stop-color="#a8a8a8"/><stop offset="0.97" stop-color="#a1a1a1"/><stop offset="0.98" stop-color="#969696"/><stop offset="0.98" stop-color="#888888"/><stop offset="0.99" stop-color="#7d7d7d"/><stop offset="1" stop-color="#797979"/></linearGradient>
<linearGradient id="c51" x1="0" y1="162" x2="0" y2="898" gradientUnits="userSpaceOnUse"><stop offset="0" stop-color="#b2b2b2"/><stop offset="0.39" stop-color="#b3b3b3"/><stop offset="0.54" stop-color="#b9b9b9"/><stop offset="0.72" stop-color="#c2c2c2"/><stop offset="0.77" stop-color="#c4c4c4"/><stop offset="0.89" stop-color="#c4c4c4"/><stop offset="0.94" stop-color="#a8a8a8"/><stop offset="0.97" stop-color="#a1a1a1"/><stop offset="0.98" stop-color="#969696"/><stop offset="0.98" stop-color="#888888"/><stop offset="0.99" stop-color="#7d7d7d"/><stop offset="1" stop-color="#797979"/></linearGradient>
<linearGradient id="c52" x1="0" y1="162" x2="0" y2="898" gradientUnits="userSpaceOnUse"><stop offset="0" stop-color="#b1b1b1"/><stop offset="0.39" stop-color="#b3b3b3"/><stop offset="0.54" stop-color="#b9b9b9"/><stop offset="0.72" stop-color="#c2c2c2"/><stop offset="0.77" stop-color="#c4c4c4"/><stop offset="0.89" stop-color="#c4c4c4"/><stop offset="0.94" stop-color="#a8a8a8"/><stop offset="0.97" stop-color="#a1a1a1"/><stop offset="0.98" stop-color="#969696"/><stop offset="0.98" stop-color="#888888"/><stop offset="0.99" stop-color="#7d7d7d"/><stop offset="1" stop-color="#797979"/></linearGradient>
<linearGradient id="c53" x1="0" y1="162" x2="0" y2="898" gradientUnits="userSpaceOnUse"><stop offset="0" stop-color="#b1b1b1"/><stop offset="0.39" stop-color="#b3b3b3"/><stop offset="0.54" stop-color="#b8b8b8"/><stop offset="0.72" stop-color="#c1c1c1"/><stop offset="0.77" stop-color="#c3c3c3"/><stop offset="0.89" stop-color="#c3c3c3"/><stop offset="0.94" stop-color="#a8a8a8"/><stop offset="0.97" stop-color="#a1a1a1"/><stop offset="0.98" stop-color="#969696"/><stop offset="0.98" stop-color="#888888"/><stop offset="0.99" stop-color="#7d7d7d"/><stop offset="1" stop-color="#797979"/></linearGradient>
<linearGradient id="c54" x1="0" y1="162" x2="0" y2="898" gradientUnits="userSpaceOnUse"><stop offset="0" stop-color="#b1b1b1"/><stop offset="0.39" stop-color="#b3b3b3"/><stop offset="0.54" stop-color="#b8b8b8"/><stop offset="0.72" stop-color="#c0c0c0"/><stop offset="0.77" stop-color="#c2c2c2"/><stop offset="0.88" stop-color="#c2c2c2"/><stop offset="0.93" stop-color="#a8a8a8"/><stop offset="0.97" stop-color="#a1a1a1"/><stop offset="0.98" stop-color="#969696"/><stop offset="0.98" stop-color="#888888"/><stop offset="0.99" stop-color="#7d7d7d"/><stop offset="1" stop-color="#797979"/></linearGradient>
<linearGradient id="c55" x1="0" y1="162" x2="0" y2="898" gradientUnits="userSpaceOnUse"><stop offset="0" stop-color="#b1b1b1"/><stop offset="0.39" stop-color="#b2b2b2"/><stop offset="0.54" stop-color="#b7b7b7"/><stop offset="0.72" stop-color="#bfbfbf"/><stop offset="0.77" stop-color="#c0c0c0"/><stop offset="0.88" stop-color="#c0c0c0"/><stop offset="0.93" stop-color="#a8a8a8"/><stop offset="0.97" stop-color="#a1a1a1"/><stop offset="0.98" stop-color="#969696"/><stop offset="0.98" stop-color="#888888"/><stop offset="0.99" stop-color="#7d7d7d"/><stop offset="1" stop-color="#797979"/></linearGradient>
<linearGradient id="c56" x1="0" y1="162" x2="0" y2="898" gradientUnits="userSpaceOnUse"><stop offset="0" stop-color="#b1b1b1"/><stop offset="0.39" stop-color="#b2b2b2"/><stop offset="0.54" stop-color="#b7b7b7"/><stop offset="0.72" stop-color="#bdbdbd"/><stop offset="0.77" stop-color="#bfbfbf"/><stop offset="0.87" stop-color="#bfbfbf"/><stop offset="0.92" stop-color="#a8a8a8"/><stop offset="0.97" stop-color="#a1a1a1"/><stop offset="0.98" stop-color="#969696"/><stop offset="0.98" stop-color="#888888"/><stop offset="0.99" stop-color="#7d7d7d"/><stop offset="1" stop-color="#797979"/></linearGradient>
<linearGradient id="c57" x1="0" y1="162" x2="0" y2="898" gradientUnits="userSpaceOnUse"><stop offset="0" stop-color="#b1b1b1"/><stop offset="0.39" stop-color="#b2b2b2"/><stop offset="0.54" stop-color="#b6b6b6"/><stop offset="0.72" stop-color="#bcbcbc"/><stop offset="0.77" stop-color="#bdbdbd"/><stop offset="0.86" stop-color="#bdbdbd"/><stop offset="0.92" stop-color="#a8a8a8"/><stop offset="0.97" stop-color="#a1a1a1"/><stop offset="0.98" stop-color="#969696"/><stop offset="0.98" stop-color="#888888"/><stop offset="0.99" stop-color="#7d7d7d"/><stop offset="1" stop-color="#797979"/></linearGradient>
<linearGradient id="c58" x1="0" y1="162" x2="0" y2="898" gradientUnits="userSpaceOnUse"><stop offset="0" stop-color="#b1b1b1"/><stop offset="0.39" stop-color="#b2b2b2"/><stop offset="0.54" stop-color="#b5b5b5"/><stop offset="0.72" stop-color="#bbbbbb"/><stop offset="0.77" stop-color="#bcbcbc"/><stop offset="0.86" stop-color="#bcbcbc"/><stop offset="0.91" stop-color="#a8a8a8"/><stop offset="0.97" stop-color="#a1a1a1"/><stop offset="0.98" stop-color="#969696"/><stop offset="0.98" stop-color="#888888"/><stop offset="0.99" stop-color="#7d7d7d"/><stop offset="1" stop-color="#797979"/></linearGradient>
<linearGradient id="c59" x1="0" y1="162" x2="0" y2="898" gradientUnits="userSpaceOnUse"><stop offset="0" stop-color="#b1b1b1"/><stop offset="0.39" stop-color="#b2b2b2"/><stop offset="0.54" stop-color="#b5b5b5"/><stop offset="0.72" stop-color="#b9b9b9"/><stop offset="0.77" stop-color="#bababa"/><stop offset="0.85" stop-color="#bababa"/><stop offset="0.91" stop-color="#a8a8a8"/><stop offset="0.97" stop-color="#a1a1a1"/><stop offset="0.98" stop-color="#969696"/><stop offset="0.98" stop-color="#888888"/><stop offset="0.99" stop-color="#7d7d7d"/><stop offset="1" stop-color="#797979"/></linearGradient>
<linearGradient id="c60" x1="0" y1="162" x2="0" y2="898" gradientUnits="userSpaceOnUse"><stop offset="0" stop-color="#b1b1b1"/><stop offset="0.39" stop-color="#b2b2b2"/><stop offset="0.54" stop-color="#b5b5b5"/><stop offset="0.72" stop-color="#bababa"/><stop offset="0.77" stop-color="#bbbbbb"/><stop offset="0.86" stop-color="#bbbbbb"/><stop offset="0.91" stop-color="#a8a8a8"/><stop offset="0.97" stop-color="#a1a1a1"/><stop offset="0.98" stop-color="#969696"/><stop offset="0.98" stop-color="#888888"/><stop offset="0.99" stop-color="#7d7d7d"/><stop offset="1" stop-color="#797979"/></linearGradient>
<linearGradient id="c61" x1="0" y1="162" x2="0" y2="898" gradientUnits="userSpaceOnUse"><stop offset="0" stop-color="#b1b1b1"/><stop offset="0.39" stop-color="#b2b2b2"/><stop offset="0.54" stop-color="#b5b5b5"/><stop offset="0.72" stop-color="#bababa"/><stop offset="0.77" stop-color="#bbbbbb"/><stop offset="0.86" stop-color="#bbbbbb"/><stop offset="0.91" stop-color="#a8a8a8"/><stop offset="0.97" stop-color="#a1a1a1"/><stop offset="0.98" stop-color="#969696"/><stop offset="0.98" stop-color="#888888"/><stop offset="0.99" stop-color="#7d7d7d"/><stop offset="1" stop-color="#797979"/></linearGradient>
<linearGradient id="c62" x1="0" y1="162" x2="0" y2="898" gradientUnits="userSpaceOnUse"><stop offset="0" stop-color="#b1b1b1"/><stop offset="0.39" stop-color="#b2b2b2"/><stop offset="0.54" stop-color="#b5b5b5"/><stop offset="0.72" stop-color="#bababa"/><stop offset="0.77" stop-color="#bbbbbb"/><stop offset="0.86" stop-color="#bbbbbb"/><stop offset="0.91" stop-color="#a8a8a8"/><stop offset="0.97" stop-color="#a1a1a1"/><stop offset="0.98" stop-color="#969696"/><stop offset="0.98" stop-color="#888888"/><stop offset="0.99" stop-color="#7d7d7d"/><stop offset="1" stop-color="#797979"/></linearGradient>
<linearGradient id="c63" x1="0" y1="162" x2="0" y2="898" gradientUnits="userSpaceOnUse"><stop offset="0" stop-color="#b1b1b1"/><stop offset="0.39" stop-color="#b2b2b2"/><stop offset="0.54" stop-color="#b5b5b5"/><stop offset="0.72" stop-color="#bbbbbb"/><stop offset="0.77" stop-color="#bcbcbc"/><stop offset="0.86" stop-color="#bcbcbc"/><stop offset="0.91" stop-color="#a8a8a8"/><stop offset="0.97" stop-color="#a1a1a1"/><stop offset="0.98" stop-color="#969696"/><stop offset="0.98" stop-color="#888888"/><stop offset="0.99" stop-color="#7d7d7d"/><stop offset="1" stop-color="#797979"/></linearGradient>
<linearGradient id="c64" x1="0" y1="162" x2="0" y2="898" gradientUnits="userSpaceOnUse"><stop offset="0" stop-color="#b1b1b1"/><stop offset="0.39" stop-color="#b2b2b2"/><stop offset="0.54" stop-color="#b5b5b5"/><stop offset="0.72" stop-color="#bbbbbb"/><stop offset="0.77" stop-color="#bcbcbc"/><stop offset="0.86" stop-color="#bcbcbc"/><stop offset="0.91" stop-color="#a8a8a8"/><stop offset="0.97" stop-color="#a1a1a1"/><stop offset="0.98" stop-color="#969696"/><stop offset="0.98" stop-color="#888888"/><stop offset="0.99" stop-color="#7d7d7d"/><stop offset="1" stop-color="#797979"/></linearGradient>
<linearGradient id="c65" x1="0" y1="162" x2="0" y2="898" gradientUnits="userSpaceOnUse"><stop offset="0" stop-color="#b1b1b1"/><stop offset="0.39" stop-color="#b2b2b2"/><stop offset="0.54" stop-color="#b6b6b6"/><stop offset="0.72" stop-color="#bbbbbb"/><stop offset="0.77" stop-color="#bcbcbc"/><stop offset="0.86" stop-color="#bcbcbc"/><stop offset="0.92" stop-color="#a8a8a8"/><stop offset="0.97" stop-color="#a1a1a1"/><stop offset="0.98" stop-color="#969696"/><stop offset="0.98" stop-color="#888888"/><stop offset="0.99" stop-color="#7d7d7d"/><stop offset="1" stop-color="#797979"/></linearGradient>
<linearGradient id="c66" x1="0" y1="162" x2="0" y2="898" gradientUnits="userSpaceOnUse"><stop offset="0" stop-color="#b1b1b1"/><stop offset="0.39" stop-color="#b2b2b2"/><stop offset="0.54" stop-color="#b6b6b6"/><stop offset="0.72" stop-color="#bcbcbc"/><stop offset="0.77" stop-color="#bdbdbd"/><stop offset="0.87" stop-color="#bdbdbd"/><stop offset="0.92" stop-color="#a8a8a8"/><stop offset="0.97" stop-color="#a1a1a1"/><stop offset="0.98" stop-color="#969696"/><stop offset="0.98" stop-color="#888888"/><stop offset="0.99" stop-color="#7d7d7d"/><stop offset="1" stop-color="#797979"/></linearGradient>
<linearGradient id="c67" x1="0" y1="162" x2="0" y2="898" gradientUnits="userSpaceOnUse"><stop offset="0" stop-color="#b1b1b1"/><stop offset="0.39" stop-color="#b2b2b2"/><stop offset="0.54" stop-color="#b6b6b6"/><stop offset="0.72" stop-color="#bcbcbc"/><stop offset="0.77" stop-color="#bdbdbd"/><stop offset="0.87" stop-color="#bdbdbd"/><stop offset="0.92" stop-color="#a8a8a8"/><stop offset="0.97" stop-color="#a1a1a1"/><stop offset="0.98" stop-color="#969696"/><stop offset="0.98" stop-color="#888888"/><stop offset="0.99" stop-color="#7d7d7d"/><stop offset="1" stop-color="#797979"/></linearGradient>
<linearGradient id="c68" x1="0" y1="162" x2="0" y2="898" gradientUnits="userSpaceOnUse"><stop offset="0" stop-color="#b1b1b1"/><stop offset="0.39" stop-color="#b2b2b2"/><stop offset="0.54" stop-color="#b6b6b6"/><stop offset="0.72" stop-color="#bcbcbc"/><stop offset="0.77" stop-color="#bdbdbd"/><stop offset="0.87" stop-color="#bdbdbd"/><stop offset="0.92" stop-color="#a8a8a8"/><stop offset="0.97" stop-color="#a1a1a1"/><stop offset="0.98" stop-color="#969696"/><stop offset="0.98" stop-color="#888888"/><stop offset="0.99" stop-color="#7d7d7d"/><stop offset="1" stop-color="#797979"/></linearGradient>
<linearGradient id="c69" x1="0" y1="162" x2="0" y2="898" gradientUnits="userSpaceOnUse"><stop offset="0" stop-color="#b1b1b1"/><stop offset="0.39" stop-color="#b2b2b2"/><stop offset="0.54" stop-color="#b6b6b6"/><stop offset="0.72" stop-color="#bdbdbd"/><stop offset="0.77" stop-color="#bebebe"/><stop offset="0.87" stop-color="#bebebe"/><stop offset="0.92" stop-color="#a8a8a8"/><stop offset="0.97" stop-color="#a1a1a1"/><stop offset="0.98" stop-color="#969696"/><stop offset="0.98" stop-color="#888888"/><stop offset="0.99" stop-color="#7d7d7d"/><stop offset="1" stop-color="#797979"/></linearGradient>
<linearGradient id="c70" x1="0" y1="162" x2="0" y2="898" gradientUnits="userSpaceOnUse"><stop offset="0" stop-color="#b1b1b1"/><stop offset="0.39" stop-color="#b2b2b2"/><stop offset="0.54" stop-color="#b6b6b6"/><stop offset="0.72" stop-color="#bdbdbd"/><stop offset="0.77" stop-color="#bebebe"/><stop offset="0.87" stop-color="#bebebe"/><stop offset="0.92" stop-color="#a8a8a8"/><stop offset="0.97" stop-color="#a1a1a1"/><stop offset="0.98" stop-color="#969696"/><stop offset="0.98" stop-color="#888888"/><stop offset="0.99" stop-color="#7d7d7d"/><stop offset="1" stop-color="#797979"/></linearGradient>
<linearGradient id="c71" x1="0" y1="162" x2="0" y2="898" gradientUnits="userSpaceOnUse"><stop offset="0" stop-color="#b1b1b1"/><stop offset="0.39" stop-color="#b2b2b2"/><stop offset="0.54" stop-color="#b6b6b6"/><stop offset="0.72" stop-color="#bcbcbc"/><stop offset="0.77" stop-color="#bebebe"/><stop offset="0.87" stop-color="#bebebe"/><stop offset="0.92" stop-color="#a8a8a8"/><stop offset="0.97" stop-color="#a1a1a1"/><stop offset="0.98" stop-color="#969696"/><stop offset="0.98" stop-color="#888888"/><stop offset="0.99" stop-color="#7d7d7d"/><stop offset="1" stop-color="#797979"/></linearGradient>
<linearGradient id="c72" x1="0" y1="162" x2="0" y2="898" gradientUnits="userSpaceOnUse"><stop offset="0" stop-color="#b1b1b1"/><stop offset="0.39" stop-color="#b2b2b2"/><stop offset="0.54" stop-color="#b6b6b6"/><stop offset="0.72" stop-color="#bcbcbc"/><stop offset="0.77" stop-color="#bdbdbd"/><stop offset="0.87" stop-color="#bdbdbd"/><stop offset="0.92" stop-color="#a8a8a8"/><stop offset="0.97" stop-color="#a1a1a1"/><stop offset="0.98" stop-color="#969696"/><stop offset="0.98" stop-color="#888888"/><stop offset="0.99" stop-color="#7d7d7d"/><stop offset="1" stop-color="#797979"/></linearGradient>
<linearGradient id="c73" x1="0" y1="162" x2="0" y2="898" gradientUnits="userSpaceOnUse"><stop offset="0" stop-color="#b1b1b1"/><stop offset="0.39" stop-color="#b2b2b2"/><stop offset="0.54" stop-color="#b6b6b6"/><stop offset="0.72" stop-color="#bcbcbc"/><stop offset="0.77" stop-color="#bdbdbd"/><stop offset="0.87" stop-color="#bdbdbd"/><stop offset="0.92" stop-color="#a8a8a8"/><stop offset="0.97" stop-color="#a1a1a1"/><stop offset="0.98" stop-color="#969696"/><stop offset="0.98" stop-color="#888888"/><stop offset="0.99" stop-color="#7d7d7d"/><stop offset="1" stop-color="#797979"/></linearGradient>
<linearGradient id="c74" x1="0" y1="162" x2="0" y2="898" gradientUnits="userSpaceOnUse"><stop offset="0" stop-color="#b1b1b1"/><stop offset="0.39" stop-color="#b2b2b2"/><stop offset="0.54" stop-color="#b6b6b6"/><stop offset="0.72" stop-color="#bcbcbc"/><stop offset="0.77" stop-color="#bdbdbd"/><stop offset="0.87" stop-color="#bdbdbd"/><stop offset="0.92" stop-color="#a8a8a8"/><stop offset="0.97" stop-color="#a1a1a1"/><stop offset="0.98" stop-color="#969696"/><stop offset="0.98" stop-color="#888888"/><stop offset="0.99" stop-color="#7d7d7d"/><stop offset="1" stop-color="#797979"/></linearGradient>
<linearGradient id="c75" x1="0" y1="162" x2="0" y2="898" gradientUnits="userSpaceOnUse"><stop offset="0" stop-color="#b1b1b1"/><stop offset="0.39" stop-color="#b2b2b2"/><stop offset="0.54" stop-color="#b6b6b6"/><stop offset="0.72" stop-color="#bcbcbc"/><stop offset="0.77" stop-color="#bdbdbd"/><stop offset="0.86" stop-color="#bdbdbd"/><stop offset="0.92" stop-color="#a8a8a8"/><stop offset="0.97" stop-color="#a1a1a1"/><stop offset="0.98" stop-color="#969696"/><stop offset="0.98" stop-color="#888888"/><stop offset="0.99" stop-color="#7d7d7d"/><stop offset="1" stop-color="#797979"/></linearGradient>
<linearGradient id="c76" x1="0" y1="162" x2="0" y2="898" gradientUnits="userSpaceOnUse"><stop offset="0" stop-color="#b1b1b1"/><stop offset="0.39" stop-color="#b2b2b2"/><stop offset="0.54" stop-color="#b6b6b6"/><stop offset="0.72" stop-color="#bbbbbb"/><stop offset="0.77" stop-color="#bdbdbd"/><stop offset="0.86" stop-color="#bdbdbd"/><stop offset="0.91" stop-color="#a8a8a8"/><stop offset="0.97" stop-color="#a1a1a1"/><stop offset="0.98" stop-color="#969696"/><stop offset="0.98" stop-color="#888888"/><stop offset="0.99" stop-color="#7d7d7d"/><stop offset="1" stop-color="#797979"/></linearGradient>
<linearGradient id="c77" x1="0" y1="162" x2="0" y2="898" gradientUnits="userSpaceOnUse"><stop offset="0" stop-color="#b1b1b1"/><stop offset="0.39" stop-color="#b2b2b2"/><stop offset="0.54" stop-color="#b5b5b5"/><stop offset="0.72" stop-color="#bbbbbb"/><stop offset="0.77" stop-color="#bcbcbc"/><stop offset="0.86" stop-color="#bcbcbc"/><stop offset="0.91" stop-color="#a8a8a8"/><stop offset="0.97" stop-color="#a1a1a1"/><stop offset="0.98" stop-color="#969696"/><stop offset="0.98" stop-color="#888888"/><stop offset="0.99" stop-color="#7d7d7d"/><stop offset="1" stop-color="#797979"/></linearGradient>
<linearGradient id="c78" x1="0" y1="162" x2="0" y2="898" gradientUnits="userSpaceOnUse"><stop offset="0" stop-color="#b1b1b1"/><stop offset="0.39" stop-color="#b2b2b2"/><stop offset="0.54" stop-color="#b5b5b5"/><stop offset="0.72" stop-color="#bbbbbb"/><stop offset="0.77" stop-color="#bcbcbc"/><stop offset="0.86" stop-color="#bcbcbc"/><stop offset="0.91" stop-color="#a8a8a8"/><stop offset="0.97" stop-color="#a1a1a1"/><stop offset="0.98" stop-color="#969696"/><stop offset="0.98" stop-color="#888888"/><stop offset="0.99" stop-color="#7d7d7d"/><stop offset="1" stop-color="#797979"/></linearGradient>
<linearGradient id="c79" x1="0" y1="162" x2="0" y2="898" gradientUnits="userSpaceOnUse"><stop offset="0" stop-color="#b1b1b1"/><stop offset="0.39" stop-color="#b2b2b2"/><stop offset="0.54" stop-color="#b5b5b5"/><stop offset="0.72" stop-color="#bbbbbb"/><stop offset="0.77" stop-color="#bcbcbc"/><stop offset="0.86" stop-color="#bcbcbc"/><stop offset="0.91" stop-color="#a8a8a8"/><stop offset="0.97" stop-color="#a1a1a1"/><stop offset="0.98" stop-color="#969696"/><stop offset="0.98" stop-color="#888888"/><stop offset="0.99" stop-color="#7d7d7d"/><stop offset="1" stop-color="#797979"/></linearGradient>
<linearGradient id="c80" x1="0" y1="162" x2="0" y2="898" gradientUnits="userSpaceOnUse"><stop offset="0" stop-color="#b1b1b1"/><stop offset="0.39" stop-color="#b2b2b2"/><stop offset="0.54" stop-color="#b5b5b5"/><stop offset="0.72" stop-color="#bbbbbb"/><stop offset="0.77" stop-color="#bcbcbc"/><stop offset="0.86" stop-color="#bcbcbc"/><stop offset="0.91" stop-color="#a8a8a8"/><stop offset="0.97" stop-color="#a1a1a1"/><stop offset="0.98" stop-color="#969696"/><stop offset="0.98" stop-color="#888888"/><stop offset="0.99" stop-color="#7d7d7d"/><stop offset="1" stop-color="#797979"/></linearGradient>
<linearGradient id="c81" x1="0" y1="162" x2="0" y2="898" gradientUnits="userSpaceOnUse"><stop offset="0" stop-color="#b1b1b1"/><stop offset="0.39" stop-color="#b2b2b2"/><stop offset="0.54" stop-color="#b5b5b5"/><stop offset="0.72" stop-color="#bbbbbb"/><stop offset="0.77" stop-color="#bcbcbc"/><stop offset="0.85" stop-color="#bcbcbc"/><stop offset="0.91" stop-color="#a8a8a8"/><stop offset="0.97" stop-color="#a1a1a1"/><stop offset="0.98" stop-color="#969696"/><stop offset="0.98" stop-color="#888888"/><stop offset="0.99" stop-color="#7d7d7d"/><stop offset="1" stop-color="#797979"/></linearGradient>
<linearGradient id="c82" x1="0" y1="162" x2="0" y2="898" gradientUnits="userSpaceOnUse"><stop offset="0" stop-color="#b1b1b1"/><stop offset="0.39" stop-color="#b2b2b2"/><stop offset="0.54" stop-color="#b5b5b5"/><stop offset="0.72" stop-color="#bababa"/><stop offset="0.77" stop-color="#bbbbbb"/><stop offset="0.85" stop-color="#bbbbbb"/><stop offset="0.9" stop-color="#a8a8a8"/><stop offset="0.97" stop-color="#a1a1a1"/><stop offset="0.98" stop-color="#969696"/><stop offset="0.98" stop-color="#888888"/><stop offset="0.99" stop-color="#7d7d7d"/><stop offset="1" stop-color="#797979"/></linearGradient>
<linearGradient id="c83" x1="0" y1="162" x2="0" y2="898" gradientUnits="userSpaceOnUse"><stop offset="0" stop-color="#b1b1b1"/><stop offset="0.39" stop-color="#b2b2b2"/><stop offset="0.54" stop-color="#b5b5b5"/><stop offset="0.72" stop-color="#bababa"/><stop offset="0.77" stop-color="#bbbbbb"/><stop offset="0.85" stop-color="#bbbbbb"/><stop offset="0.9" stop-color="#a8a8a8"/><stop offset="0.97" stop-color="#a1a1a1"/><stop offset="0.98" stop-color="#969696"/><stop offset="0.98" stop-color="#888888"/><stop offset="0.99" stop-color="#7d7d7d"/><stop offset="1" stop-color="#797979"/></linearGradient>
<linearGradient id="c84" x1="0" y1="162" x2="0" y2="898" gradientUnits="userSpaceOnUse"><stop offset="0" stop-color="#b1b1b1"/><stop offset="0.39" stop-color="#b2b2b2"/><stop offset="0.54" stop-color="#b5b5b5"/><stop offset="0.72" stop-color="#bababa"/><stop offset="0.77" stop-color="#bbbbbb"/><stop offset="0.85" stop-color="#bbbbbb"/><stop offset="0.9" stop-color="#a8a8a8"/><stop offset="0.97" stop-color="#a1a1a1"/><stop offset="0.98" stop-color="#969696"/><stop offset="0.98" stop-color="#888888"/><stop offset="0.99" stop-color="#7d7d7d"/><stop offset="1" stop-color="#797979"/></linearGradient>
<linearGradient id="c85" x1="0" y1="162" x2="0" y2="898" gradientUnits="userSpaceOnUse"><stop offset="0" stop-color="#b1b1b1"/><stop offset="0.39" stop-color="#b2b2b2"/><stop offset="0.54" stop-color="#b5b5b5"/><stop offset="0.72" stop-color="#bababa"/><stop offset="0.77" stop-color="#bbbbbb"/><stop offset="0.84" stop-color="#bbbbbb"/><stop offset="0.89" stop-color="#a8a8a8"/><stop offset="0.97" stop-color="#a1a1a1"/><stop offset="0.98" stop-color="#969696"/><stop offset="0.98" stop-color="#888888"/><stop offset="0.99" stop-color="#7d7d7d"/><stop offset="1" stop-color="#797979"/></linearGradient>
<linearGradient id="c86" x1="0" y1="162" x2="0" y2="898" gradientUnits="userSpaceOnUse"><stop offset="0" stop-color="#b1b1b1"/><stop offset="0.39" stop-color="#b2b2b2"/><stop offset="0.54" stop-color="#b5b5b5"/><stop offset="0.72" stop-color="#bababa"/><stop offset="0.77" stop-color="#bbbbbb"/><stop offset="0.84" stop-color="#bbbbbb"/><stop offset="0.89" stop-color="#a8a8a8"/><stop offset="0.97" stop-color="#a1a1a1"/><stop offset="0.98" stop-color="#969696"/><stop offset="0.98" stop-color="#888888"/><stop offset="0.99" stop-color="#7d7d7d"/><stop offset="1" stop-color="#797979"/></linearGradient>
<linearGradient id="c87" x1="0" y1="162" x2="0" y2="898" gradientUnits="userSpaceOnUse"><stop offset="0" stop-color="#b1b1b1"/><stop offset="0.39" stop-color="#b2b2b2"/><stop offset="0.54" stop-color="#b5b5b5"/><stop offset="0.72" stop-color="#bababa"/><stop offset="0.77" stop-color="#bbbbbb"/><stop offset="0.84" stop-color="#bbbbbb"/><stop offset="0.89" stop-color="#a8a8a8"/><stop offset="0.97" stop-color="#a1a1a1"/><stop offset="0.98" stop-color="#969696"/><stop offset="0.98" stop-color="#888888"/><stop offset="0.99" stop-color="#7d7d7d"/><stop offset="1" stop-color="#797979"/></linearGradient>
<linearGradient id="c88" x1="0" y1="162" x2="0" y2="898" gradientUnits="userSpaceOnUse"><stop offset="0" stop-color="#b1b1b1"/><stop offset="0.39" stop-color="#b2b2b2"/><stop offset="0.54" stop-color="#b5b5b5"/><stop offset="0.72" stop-color="#bababa"/><stop offset="0.77" stop-color="#bbbbbb"/><stop offset="0.84" stop-color="#bbbbbb"/><stop offset="0.89" stop-color="#a8a8a8"/><stop offset="0.97" stop-color="#a1a1a1"/><stop offset="0.98" stop-color="#969696"/><stop offset="0.98" stop-color="#888888"/><stop offset="0.99" stop-color="#7d7d7d"/><stop offset="1" stop-color="#797979"/></linearGradient>
<linearGradient id="c89" x1="0" y1="162" x2="0" y2="898" gradientUnits="userSpaceOnUse"><stop offset="0" stop-color="#b1b1b1"/><stop offset="0.39" stop-color="#b2b2b2"/><stop offset="0.54" stop-color="#b5b5b5"/><stop offset="0.72" stop-color="#bababa"/><stop offset="0.77" stop-color="#bbbbbb"/><stop offset="0.84" stop-color="#bbbbbb"/><stop offset="0.89" stop-color="#a8a8a8"/><stop offset="0.97" stop-color="#a1a1a1"/><stop offset="0.98" stop-color="#969696"/><stop offset="0.98" stop-color="#888888"/><stop offset="0.99" stop-color="#7d7d7d"/><stop offset="1" stop-color="#797979"/></linearGradient>
<linearGradient id="c90" x1="0" y1="162" x2="0" y2="898" gradientUnits="userSpaceOnUse"><stop offset="0" stop-color="#b1b1b1"/><stop offset="0.39" stop-color="#b2b2b2"/><stop offset="0.54" stop-color="#b4b4b4"/><stop offset="0.72" stop-color="#b9b9b9"/><stop offset="0.77" stop-color="#bababa"/><stop offset="0.84" stop-color="#bababa"/><stop offset="0.89" stop-color="#a8a8a8"/><stop offset="0.97" stop-color="#a1a1a1"/><stop offset="0.98" stop-color="#969696"/><stop offset="0.98" stop-color="#888888"/><stop offset="0.99" stop-color="#7d7d7d"/><stop offset="1" stop-color="#797979"/></linearGradient>
<linearGradient id="c91" x1="0" y1="162" x2="0" y2="898" gradientUnits="userSpaceOnUse"><stop offset="0" stop-color="#b0b0b0"/><stop offset="0.39" stop-color="#b2b2b2"/><stop offset="0.54" stop-color="#b4b4b4"/><stop offset="0.72" stop-color="#b9b9b9"/><stop offset="0.77" stop-color="#bababa"/><stop offset="0.84" stop-color="#bababa"/><stop offset="0.89" stop-color="#a8a8a8"/><stop offset="0.97" stop-color="#a1a1a1"/><stop offset="0.98" stop-color="#969696"/><stop offset="0.98" stop-color="#888888"/><stop offset="0.99" stop-color="#7d7d7d"/><stop offset="1" stop-color="#797979"/></linearGradient>
<linearGradient id="c92" x1="0" y1="162" x2="0" y2="898" gradientUnits="userSpaceOnUse"><stop offset="0" stop-color="#b0b0b0"/><stop offset="0.39" stop-color="#b2b2b2"/><stop offset="0.54" stop-color="#b4b4b4"/><stop offset="0.72" stop-color="#b9b9b9"/><stop offset="0.77" stop-color="#bababa"/><stop offset="0.83" stop-color="#bababa"/><stop offset="0.89" stop-color="#a8a8a8"/><stop offset="0.97" stop-color="#a1a1a1"/><stop offset="0.98" stop-color="#969696"/><stop offset="0.98" stop-color="#888888"/><stop offset="0.99" stop-color="#7d7d7d"/><stop offset="1" stop-color="#797979"/></linearGradient>
</defs>
<g filter="url(#jet)">
<rect x="374" y="162" width="24" height="736" fill="url(#c0)"/>
<rect x="398" y="162" width="24" height="736" fill="url(#c1)"/>
<rect x="422" y="162" width="24" height="736" fill="url(#c2)"/>
<rect x="446" y="162" width="24" height="736" fill="url(#c3)"/>
<rect x="470" y="162" width="24" height="736" fill="url(#c4)"/>
<rect x="494" y="162" width="24" height="736" fill="url(#c5)"/>
<rect x="518" y="162" width="24" height="736" fill="url(#c6)"/>
<rect x="542" y="162" width="24" height="736" fill="url(#c7)"/>
<rect x="566" y="162" width="24" height="736" fill="url(#c8)"/>
<rect x="590" y="162" width="24" height="736" fill="url(#c9)"/>
<rect x="614" y="162" width="24" height="736" fill="url(#c10)"/>
<rect x="638" y="162" width="24" height="736" fill="url(#c11)"/>
<rect x="662" y="162" width="24" height="736" fill="url(#c12)"/>
<rect x="686" y="162" width="24" height="736" fill="url(#c13)"/>
<rect x="710" y="162" width="24" height="736" fill="url(#c14)"/>
<rect x="734" y="162" width="24" height="736" fill="url(#c15)"/>
<rect x="758" y="162" width="24" height="736" fill="url(#c16)"/>
<rect x="782" y="162" width="24" height="736" fill="url(#c17)"/>
<rect x="806" y="162" width="24" height="736" fill="url(#c18)"/>
<rect x="830" y="162" width="24" height="736" fill="url(#c19)"/>
<rect x="854" y="162" width="24" height="736" fill="url(#c20)"/>
<rect x="878" y="162" width="24" height="736" fill="url(#c21)"/>
<rect x="902" y="162" width="24" height="736" fill="url(#c22)"/>
<rect x="926" y="162" width="24" height="736" fill="url(#c23)"/>
<rect x="950" y="162" width="24" height="736" fill="url(#c24)"/>
<rect x="974" y="162" width="24" height="736" fill="url(#c25)"/>
<rect x="998" y="162" width="24" height="736" fill="url(#c26)"/>
<rect x="1022" y="162" width="24" height="736" fill="url(#c27)"/>
<rect x="1046" y="162" width="24" height="736" fill="url(#c28)"/>
<rect x="1070" y="162" width="24" height="736" fill="url(#c29)"/>
<rect x="1094" y="162" width="24" height="736" fill="url(#c30)"/>
<rect x="1118" y="162" width="24" height="736" fill="url(#c31)"/>
<rect x="1142" y="162" width="24" height="736" fill="url(#c32)"/>
<rect x="1166" y="162" width="24" height="736" fill="url(#c33)"/>
<rect x="1190" y="162" width="24" height="736" fill="url(#c34)"/>
<rect x="1214" y="162" width="24" height="736" fill="url(#c35)"/>
<rect x="1238" y="162" width="24" height="736" fill="url(#c36)"/>
<rect x="1262" y="162" width="24" height="736" fill="url(#c37)"/>
<rect x="1286" y="162" width="24" height="736" fill="url(#c38)"/>
<rect x="1310" y="162" width="24" height="736" fill="url(#c39)"/>
<rect x="1334" y="162" width="24" height="736" fill="url(#c40)"/>
<rect x="1358" y="162" width="24" height="736" fill="url(#c41)"/>
<rect x="1382" y="162" width="24" height="736" fill="url(#c42)"/>
<rect x="1406" y="162" width="24" height="736" fill="url(#c43)"/>
<rect x="1430" y="162" width="24" height="736" fill="url(#c44)"/>
<rect x="1454" y="162" width="24" height="736" fill="url(#c45)"/>
<rect x="1478" y="162" width="24" height="736" fill="url(#c46)"/>
<rect x="1502" y="162" width="24" height="736" fill="url(#c47)"/>
<rect x="1526" y="162" width="24" height="736" fill="url(#c48)"/>
<rect x="1550" y="162" width="24" height="736" fill="url(#c49)"/>
<rect x="1574" y="162" width="24" height="736" fill="url(#c50)"/>
<rect x="1598" y="162" width="24" height="736" fill="url(#c51)"/>
<rect x="1622" y="162" width="24" height="736" fill="url(#c52)"/>
<rect x="1646" y="162" width="24" height="736" fill="url(#c53)"/>
<rect x="1670" y="162" width="24" height="736" fill="url(#c54)"/>
<rect x="1694" y="162" width="24" height="736" fill="url(#c55)"/>
<rect x="1718" y="162" width="24" height="736" fill="url(#c56)"/>
<rect x="1742" y="162" width="24" height="736" fill="url(#c57)"/>
<rect x="1766" y="162" width="24" height="736" fill="url(#c58)"/>
<rect x="1790" y="162" width="24" height="736" fill="url(#c59)"/>
<rect x="1814" y="162" width="24" height="736" fill="url(#c60)"/>
<rect x="1838" y="162" width="24" height="736" fill="url(#c61)"/>
<rect x="1862" y="162" width="24" height="736" fill="url(#c62)"/>
<rect x="1886" y="162" width="24" height="736" fill="url(#c63)"/>
<rect x="1910" y="162" width="24" height="736" fill="url(#c64)"/>
<rect x="1934" y="162" width="24" height="736" fill="url(#c65)"/>
<rect x="1958" y="162" width="24" height="736" fill="url(#c66)"/>
<rect x="1982" y="162" width="24" height="736" fill="url(#c67)"/>
<rect x="2006" y="162" width="24" height="736" fill="url(#c68)"/>
<rect x="2030" y="162" width="24" height="736" fill="url(#c69)"/>
<rect x="2054" y="162" width="24" height="736" fill="url(#c70)"/>
<rect x="2078" y="162" width="24" height="736" fill="url(#c71)"/>
<rect x="2102" y="162" width="24" height="736" fill="url(#c72)"/>
<rect x="2126" y="162" width="24" height="736" fill="url(#c73)"/>
<rect x="2150" y="162" width="24" height="736" fill="url(#c74)"/>
<rect x="2174" y="162" width="24" height="736" fill="url(#c75)"/>
<rect x="2198" y="162" width="24" height="736" fill="url(#c76)"/>
<rect x="2222" y="162" width="24" height="736" fill="url(#c77)"/>
<rect x="2246" y="162" width="24" height="736" fill="url(#c78)"/>
<rect x="2270" y="162" width="24" height="736" fill="url(#c79)"/>
<rect x="2294" y="162" width="24" height="736" fill="url(#c80)"/>
<rect x="2318" y="162" width="24" height="736" fill="url(#c81)"/>
<rect x="2342" y="162" width="24" height="736" fill="url(#c82)"/>
<rect x="2366" y="162" width="24" height="736" fill="url(#c83)"/>
<rect x="2390" y="162" width="24" height="736" fill="url(#c84)"/>
<rect x="2414" y="162" width="24" height="736" fill="url(#c85)"/>
<rect x="2438" y="162" width="24" height="736" fill="url(#c86)"/>
<rect x="2462" y="162" width="24" height="736" fill="url(#c87)"/>
<rect x="2486" y="162" width="24" height="736" fill="url(#c88)"/>
<rect x="2510" y="162" width="24" height="736" fill="url(#c89)"/>
<rect x="2534" y="162" width="24" height="736" fill="url(#c90)"/>
<rect x="2558" y="162" width="24" height="736" fill="url(#c91)"/>
<rect x="2582" y="162" width="24" height="736" fill="url(#c92)"/>
<linearGradient id="bd0" x1="0" y1="0" x2="0" y2="1"><stop offset="0" stop-color="#c2c2c2" stop-opacity="0"/><stop offset="0.06" stop-color="#c4c4c4" stop-opacity="0.9"/><stop offset="0.36" stop-color="#cccccc" stop-opacity="1"/><stop offset="0.73" stop-color="#d6d6d6" stop-opacity="1"/><stop offset="0.9" stop-color="#e0e0e0" stop-opacity="1"/><stop offset="0.96" stop-color="#d9d9d9" stop-opacity="0.8"/><stop offset="1" stop-color="#bfbfbf" stop-opacity="0"/></linearGradient>
<rect x="534" y="162" width="13" height="668" fill="url(#bd0)" filter="url(#bl1)"/>
<linearGradient id="bd1" x1="0" y1="0" x2="0" y2="1"><stop offset="0" stop-color="#bfbfbf" stop-opacity="0"/><stop offset="0.13" stop-color="#c2c2c2" stop-opacity="0.7"/><stop offset="0.65" stop-color="#c7c7c7" stop-opacity="0.85"/><stop offset="0.88" stop-color="#cccccc" stop-opacity="0.9"/><stop offset="1" stop-color="#bfbfbf" stop-opacity="0"/></linearGradient>
<rect x="524" y="162" width="34" height="678" fill="url(#bd1)" filter="url(#bl2)"/>
<ellipse cx="412" cy="690" rx="8" ry="20" fill="#cccccc" filter="url(#bl2)"/>
<ellipse cx="386" cy="730" rx="12" ry="60" fill="#c7c7c7" filter="url(#bl2)"/>
<ellipse cx="541" cy="760" rx="7" ry="38" fill="#e8e8e8" filter="url(#bl2)"/>
<ellipse cx="613" cy="618" rx="5" ry="10" fill="#cccccc" filter="url(#bl2)"/>
<ellipse cx="790" cy="700" rx="25" ry="15" fill="#c7c7c7" filter="url(#bl2)"/>
<ellipse cx="1418" cy="776" rx="7" ry="32" fill="#d1d1d1" filter="url(#bl2)"/>
<ellipse cx="1472" cy="790" rx="10" ry="32" fill="#cccccc" filter="url(#bl2)"/>
<ellipse cx="1500" cy="775" rx="12" ry="40" fill="#cccccc" filter="url(#bl2)"/>
<ellipse cx="1525" cy="780" rx="10" ry="40" fill="#cccccc" filter="url(#bl2)"/>
<ellipse cx="1590" cy="770" rx="6" ry="45" fill="#cccccc" filter="url(#bl2)"/>
<ellipse cx="1750" cy="785" rx="6" ry="38" fill="#cccccc" filter="url(#bl2)"/>
<ellipse cx="2071" cy="776" rx="6" ry="32" fill="#d1d1d1" filter="url(#bl2)"/>
<ellipse cx="2336" cy="635" rx="4" ry="10" fill="#cccccc" filter="url(#bl2)"/>
<ellipse cx="2000" cy="760" rx="300" ry="35" fill="#c1c1c1" filter="url(#bl3)"/>
<ellipse cx="1297" cy="697" rx="7" ry="22" fill="#cfcfcf" filter="url(#bl2)"/>
<ellipse cx="1478" cy="640" rx="9" ry="24" fill="#cfcfcf" filter="url(#bl2)"/>
<ellipse cx="1530" cy="680" rx="6" ry="22" fill="#cccccc" filter="url(#bl2)"/>
<ellipse cx="1630" cy="636" rx="6" ry="25" fill="#cccccc" filter="url(#bl2)"/>
<ellipse cx="2035" cy="670" rx="6" ry="30" fill="#cccccc" filter="url(#bl2)"/>
<ellipse cx="1905" cy="650" rx="8" ry="30" fill="#c9c9c9" filter="url(#bl2)"/>
<ellipse cx="2160" cy="640" rx="10" ry="35" fill="#c9c9c9" filter="url(#bl2)"/>
<g filter="url(#bl0)"><rect x="676.47" y="761.56" width="1.5" height="25.97" fill="#d8d8d8" opacity="0.72"/>
<rect x="570.2" y="690.62" width="2" height="66.44" fill="#cccccc" opacity="0.58"/>
<rect x="818.14" y="736.43" width="1" height="42.75" fill="#d2d2d2" opacity="0.63"/>
<rect x="798.75" y="681.81" width="1" height="40.82" fill="#cbcbcb" opacity="0.45"/>
<rect x="391.08" y="744.15" width="2" height="57.25" fill="#c7c7c7" opacity="0.72"/>
<rect x="1006.18" y="669.05" width="1" height="98.23" fill="#d4d4d4" opacity="0.35"/>
<rect x="868.71" y="698.45" width="1.5" height="42.26" fill="#d7d7d7" opacity="0.4"/>
<rect x="1007.94" y="742.92" width="1" height="45.56" fill="#cccccc" opacity="0.5"/>
<rect x="1039.04" y="771.7" width="1.5" height="37.34" fill="#dbdbdb" opacity="0.67"/>
<rect x="483.1" y="713.23" width="1" height="46.77" fill="#cfcfcf" opacity="0.31"/>
<rect x="418.21" y="690.01" width="1" height="67.29" fill="#d7d7d7" opacity="0.65"/>
<rect x="640.99" y="705.68" width="2" height="89.48" fill="#d4d4d4" opacity="0.31"/>
<rect x="731.04" y="708.33" width="1" height="98.34" fill="#cecece" opacity="0.6"/>
<rect x="460.67" y="712.44" width="1.5" height="39.22" fill="#cccccc" opacity="0.37"/>
<rect x="583.3" y="698" width="1" height="76.03" fill="#cacaca" opacity="0.6"/>
<rect x="1017.19" y="702.32" width="1" height="104.35" fill="#cccccc" opacity="0.64"/>
<rect x="422" y="682.25" width="1" height="96.39" fill="#cccccc" opacity="0.7"/>
<rect x="393.8" y="694.69" width="1" height="56.39" fill="#d3d3d3" opacity="0.67"/>
<rect x="1022.56" y="677.38" width="2" height="116.22" fill="#cecece" opacity="0.33"/>
<rect x="708.33" y="725.31" width="1" height="43.53" fill="#d6d6d6" opacity="0.54"/>
<rect x="543.33" y="668.55" width="1" height="78.95" fill="#cccccc" opacity="0.49"/>
<rect x="638.24" y="703.3" width="1" height="74.09" fill="#cacaca" opacity="0.7"/>
<rect x="834.87" y="702.05" width="1.5" height="51.12" fill="#cfcfcf" opacity="0.5"/>
<rect x="565.91" y="685.59" width="1.5" height="95.04" fill="#d0d0d0" opacity="0.4"/>
<rect x="472.79" y="776.51" width="1" height="25.19" fill="#c8c8c8" opacity="0.57"/>
<rect x="510.45" y="675.12" width="1.5" height="62.71" fill="#cbcbcb" opacity="0.44"/>
<rect x="602.91" y="714.33" width="1.5" height="61.89" fill="#d7d7d7" opacity="0.32"/>
<rect x="511.74" y="752.47" width="1" height="32.78" fill="#cecece" opacity="0.39"/>
<rect x="482.83" y="660.95" width="1.5" height="115.41" fill="#cfcfcf" opacity="0.69"/>
<rect x="549.23" y="704.2" width="1.5" height="71.04" fill="#d3d3d3" opacity="0.46"/>
<rect x="1083.83" y="748" width="1" height="51.99" fill="#c9c9c9" opacity="0.39"/>
<rect x="740.05" y="691.31" width="1" height="116.33" fill="#d7d7d7" opacity="0.37"/>
<rect x="759.96" y="712.48" width="1" height="80.87" fill="#d0d0d0" opacity="0.5"/>
<rect x="643.89" y="707.33" width="1" height="27.6" fill="#cdcdcd" opacity="0.5"/>
<rect x="605.6" y="686.24" width="2" height="62" fill="#d2d2d2" opacity="0.33"/>
<rect x="453.73" y="662.86" width="1" height="115.46" fill="#c8c8c8" opacity="0.32"/>
<rect x="980.21" y="693.13" width="2" height="74.88" fill="#c8c8c8" opacity="0.4"/>
<rect x="535.26" y="668.26" width="1" height="95.79" fill="#dbdbdb" opacity="0.61"/>
<rect x="716.36" y="682.18" width="1" height="42.14" fill="#cacaca" opacity="0.63"/>
<rect x="990.58" y="683.64" width="1" height="26.37" fill="#d2d2d2" opacity="0.36"/>
<rect x="566.57" y="758.98" width="1" height="47.39" fill="#d1d1d1" opacity="0.63"/>
<rect x="698.33" y="681.28" width="2" height="63.34" fill="#d9d9d9" opacity="0.71"/>
<rect x="452.73" y="767.09" width="1.5" height="27.86" fill="#cccccc" opacity="0.52"/>
<rect x="433.84" y="684.78" width="2" height="69.23" fill="#cdcdcd" opacity="0.55"/>
<rect x="498.3" y="709.93" width="2" height="94.22" fill="#cccccc" opacity="0.7"/>
<rect x="938.36" y="660.57" width="1.5" height="41.72" fill="#c7c7c7" opacity="0.72"/>
<rect x="1026.41" y="671.99" width="1.5" height="90.91" fill="#c7c7c7" opacity="0.48"/>
<rect x="530.36" y="677.08" width="1" height="78.32" fill="#dadada" opacity="0.39"/>
<rect x="1040.67" y="679.05" width="1" height="25.56" fill="#cecece" opacity="0.36"/>
<rect x="816.48" y="686.36" width="1" height="54.12" fill="#d0d0d0" opacity="0.71"/>
<rect x="795.84" y="689.97" width="2" height="100.14" fill="#d3d3d3" opacity="0.75"/>
<rect x="738.51" y="707.55" width="2" height="76.03" fill="#dadada" opacity="0.37"/>
<rect x="680.37" y="701.88" width="1" height="91.83" fill="#cccccc" opacity="0.44"/>
<rect x="673.64" y="668.05" width="2" height="62.27" fill="#d5d5d5" opacity="0.35"/>
<rect x="686.83" y="660.22" width="2" height="119.08" fill="#cacaca" opacity="0.31"/>
<rect x="490.25" y="711.23" width="2" height="89.5" fill="#cacaca" opacity="0.45"/>
<rect x="810.2" y="688.58" width="2" height="65.84" fill="#c7c7c7" opacity="0.6"/>
<rect x="735.42" y="710.22" width="1.5" height="82.67" fill="#d7d7d7" opacity="0.36"/>
<rect x="701.73" y="752.63" width="1" height="26.06" fill="#cfcfcf" opacity="0.51"/>
<rect x="821.73" y="686.26" width="1" height="57.31" fill="#d9d9d9" opacity="0.44"/>
<rect x="444.77" y="664.74" width="1" height="42.64" fill="#d7d7d7" opacity="0.36"/>
<rect x="420.57" y="660.07" width="1.5" height="87.61" fill="#cccccc" opacity="0.41"/>
<rect x="764.78" y="719.23" width="1.5" height="51.3" fill="#cecece" opacity="0.48"/>
<rect x="795.82" y="689.07" width="1.5" height="80.93" fill="#cccccc" opacity="0.34"/>
<rect x="871.27" y="687.95" width="1" height="88.86" fill="#d2d2d2" opacity="0.62"/>
<rect x="527.18" y="694.81" width="1" height="49.24" fill="#dadada" opacity="0.71"/>
<rect x="949.62" y="754.13" width="1" height="47.16" fill="#c7c7c7" opacity="0.36"/>
<rect x="682.1" y="674.55" width="1" height="64.98" fill="#d5d5d5" opacity="0.53"/>
<rect x="731.14" y="744.81" width="1" height="34.95" fill="#c7c7c7" opacity="0.66"/>
<rect x="631.24" y="672.3" width="1" height="113.65" fill="#cdcdcd" opacity="0.54"/>
<rect x="668.59" y="683.28" width="1" height="56.5" fill="#d2d2d2" opacity="0.36"/>
<rect x="391.87" y="754.72" width="1" height="38.94" fill="#d7d7d7" opacity="0.37"/>
<rect x="907.17" y="725.46" width="1.5" height="49.02" fill="#d5d5d5" opacity="0.53"/>
<rect x="641.56" y="677.48" width="1" height="63.1" fill="#d9d9d9" opacity="0.35"/>
<rect x="765.5" y="699.53" width="1" height="69.07" fill="#d4d4d4" opacity="0.56"/>
<rect x="952.46" y="736.95" width="1" height="64.16" fill="#d0d0d0" opacity="0.35"/>
<rect x="561.38" y="717.59" width="1" height="37.57" fill="#d4d4d4" opacity="0.49"/>
<rect x="576.17" y="691.84" width="2" height="101.37" fill="#d2d2d2" opacity="0.66"/>
<rect x="801.53" y="696.14" width="1.5" height="50.02" fill="#c7c7c7" opacity="0.74"/>
<rect x="1021.71" y="684.96" width="2" height="92.4" fill="#d1d1d1" opacity="0.35"/>
<rect x="718.53" y="683.7" width="1" height="80.84" fill="#dbdbdb" opacity="0.71"/>
<rect x="429.92" y="683.75" width="1" height="114.87" fill="#cbcbcb" opacity="0.38"/>
<rect x="377.38" y="664.57" width="1" height="108.65" fill="#cccccc" opacity="0.67"/>
<rect x="590.77" y="660.58" width="1" height="104.94" fill="#cecece" opacity="0.34"/>
<rect x="383.47" y="684.73" width="1" height="64.13" fill="#c8c8c8" opacity="0.73"/>
<rect x="701.56" y="683.04" width="1" height="117.59" fill="#d4d4d4" opacity="0.54"/>
<rect x="993.1" y="672.08" width="1.5" height="64.03" fill="#d5d5d5" opacity="0.4"/>
<rect x="1062.17" y="669.98" width="2" height="68.86" fill="#d9d9d9" opacity="0.7"/>
<rect x="460.97" y="709.57" width="1" height="50.96" fill="#c9c9c9" opacity="0.48"/>
<rect x="608.81" y="706.65" width="1" height="77.99" fill="#d6d6d6" opacity="0.49"/>
<rect x="480.94" y="684.34" width="1" height="41.23" fill="#cbcbcb" opacity="0.48"/>
<rect x="383.31" y="686.59" width="1.5" height="80.93" fill="#d2d2d2" opacity="0.49"/>
<rect x="1041.7" y="739.66" width="1" height="30.12" fill="#cecece" opacity="0.31"/>
<rect x="932.23" y="700.52" width="1" height="68.85" fill="#d7d7d7" opacity="0.53"/>
<rect x="689.39" y="664.66" width="1" height="37.49" fill="#d7d7d7" opacity="0.5"/>
<rect x="1063.45" y="744.95" width="2" height="66.64" fill="#cecece" opacity="0.45"/>
<rect x="781.59" y="708.24" width="2" height="71.41" fill="#c9c9c9" opacity="0.65"/>
<rect x="729" y="690.84" width="1" height="94.48" fill="#cecece" opacity="0.54"/>
<rect x="958.68" y="733.28" width="1.5" height="70.85" fill="#d5d5d5" opacity="0.54"/>
<rect x="876.67" y="668.93" width="2" height="57.18" fill="#d0d0d0" opacity="0.73"/>
<rect x="905.42" y="687.4" width="1" height="79.57" fill="#d8d8d8" opacity="0.51"/>
<rect x="690.35" y="704.76" width="1" height="63.65" fill="#d5d5d5" opacity="0.63"/>
<rect x="1039.01" y="661.03" width="1" height="105.49" fill="#d4d4d4" opacity="0.36"/>
<rect x="798.74" y="672.15" width="1" height="84.62" fill="#cdcdcd" opacity="0.48"/>
<rect x="737.89" y="733.25" width="1.5" height="42.12" fill="#cdcdcd" opacity="0.45"/>
<rect x="964.57" y="702.09" width="1" height="100.44" fill="#cccccc" opacity="0.7"/>
<rect x="984.76" y="680.76" width="1" height="100.36" fill="#d6d6d6" opacity="0.72"/>
<rect x="887.77" y="672.93" width="1" height="116.53" fill="#d0d0d0" opacity="0.6"/>
<rect x="630" y="663.05" width="1" height="46.59" fill="#cacaca" opacity="0.36"/>
<rect x="889.96" y="698.24" width="1.5" height="56.2" fill="#d7d7d7" opacity="0.53"/>
<rect x="527.04" y="682.37" width="1" height="33.17" fill="#c9c9c9" opacity="0.59"/>
<rect x="777.83" y="769.01" width="1.5" height="35.61" fill="#cacaca" opacity="0.72"/>
<rect x="535.46" y="698.99" width="2" height="106.32" fill="#d6d6d6" opacity="0.42"/>
<rect x="727.66" y="700.97" width="1" height="101.99" fill="#d6d6d6" opacity="0.57"/>
<rect x="931.75" y="742.46" width="1" height="27.11" fill="#d7d7d7" opacity="0.75"/>
<rect x="902.68" y="662.44" width="1" height="67.63" fill="#d2d2d2" opacity="0.34"/>
<rect x="606.9" y="715.13" width="1.5" height="81.25" fill="#d1d1d1" opacity="0.31"/>
<rect x="452.39" y="683.51" width="1.5" height="107.19" fill="#cacaca" opacity="0.49"/>
<rect x="1017.61" y="699.9" width="1" height="107.45" fill="#d6d6d6" opacity="0.69"/>
<rect x="613.44" y="691.45" width="1" height="64.81" fill="#cecece" opacity="0.4"/>
<rect x="1045.32" y="714.7" width="2" height="92.71" fill="#d6d6d6" opacity="0.67"/>
<rect x="1043.99" y="739.01" width="2" height="65.83" fill="#d8d8d8" opacity="0.38"/>
<rect x="796.79" y="704.42" width="1.5" height="73.66" fill="#d1d1d1" opacity="0.61"/>
<rect x="684.71" y="730.39" width="1.5" height="70.95" fill="#d8d8d8" opacity="0.4"/>
<rect x="882.11" y="660.23" width="1.5" height="119.23" fill="#cacaca" opacity="0.38"/>
<rect x="597.56" y="693.01" width="1" height="112.2" fill="#d0d0d0" opacity="0.57"/>
<rect x="1076.52" y="744.74" width="1" height="61.15" fill="#d2d2d2" opacity="0.64"/>
<rect x="428.88" y="737.23" width="1" height="35.31" fill="#dadada" opacity="0.7"/>
<rect x="492.68" y="682.81" width="1" height="30.41" fill="#d4d4d4" opacity="0.57"/>
<rect x="848.88" y="714.6" width="2" height="63.01" fill="#d6d6d6" opacity="0.6"/>
<rect x="426.52" y="700.35" width="1.5" height="56.16" fill="#c7c7c7" opacity="0.42"/>
<rect x="918" y="701.83" width="1" height="27.83" fill="#d0d0d0" opacity="0.72"/>
<rect x="746.85" y="699.49" width="1" height="71.02" fill="#d2d2d2" opacity="0.64"/>
<rect x="1020.54" y="704.62" width="1.5" height="96.68" fill="#d6d6d6" opacity="0.34"/>
<rect x="1061.96" y="742.82" width="1" height="64.58" fill="#d3d3d3" opacity="0.45"/>
<rect x="1080.9" y="680.53" width="1" height="104.4" fill="#cdcdcd" opacity="0.42"/>
<rect x="1075.37" y="726.22" width="1.5" height="56.58" fill="#c7c7c7" opacity="0.66"/>
<rect x="409.58" y="696.65" width="1" height="107.7" fill="#d3d3d3" opacity="0.63"/>
<rect x="436.99" y="663.31" width="1" height="107.03" fill="#d2d2d2" opacity="0.68"/>
<rect x="1096.97" y="765.28" width="2" height="26.03" fill="#d8d8d8" opacity="0.43"/>
<rect x="1120.44" y="665.34" width="1" height="33.96" fill="#cccccc" opacity="0.37"/>
<rect x="1470.98" y="669.03" width="1" height="96.64" fill="#d6d6d6" opacity="0.59"/>
<rect x="1128.86" y="703.98" width="1" height="26.97" fill="#d0d0d0" opacity="0.42"/>
<rect x="1283.55" y="665.72" width="1" height="102.94" fill="#cbcbcb" opacity="0.67"/>
<rect x="1416.02" y="700.07" width="2" height="80.65" fill="#d8d8d8" opacity="0.66"/>
<rect x="1199.08" y="722.66" width="2" height="93.87" fill="#d2d2d2" opacity="0.58"/>
<rect x="1104.07" y="662.63" width="1.5" height="56.52" fill="#d1d1d1" opacity="0.59"/>
<rect x="1297.03" y="689.5" width="2" height="87.82" fill="#d4d4d4" opacity="0.42"/>
<rect x="1133.99" y="743.67" width="1" height="49.55" fill="#d1d1d1" opacity="0.54"/>
<rect x="1250.5" y="781.23" width="1" height="40.12" fill="#cccccc" opacity="0.68"/>
<rect x="1242.24" y="676.57" width="2" height="36.14" fill="#d3d3d3" opacity="0.72"/>
<rect x="1407.37" y="726.67" width="1.5" height="67.09" fill="#d8d8d8" opacity="0.33"/>
<rect x="1367.57" y="728.68" width="2" height="72.22" fill="#c9c9c9" opacity="0.68"/>
<rect x="1335.2" y="719.06" width="1.5" height="88" fill="#cbcbcb" opacity="0.66"/>
<rect x="1310.1" y="661.32" width="1" height="108.1" fill="#dadada" opacity="0.33"/>
<rect x="1460.96" y="714.98" width="1" height="111.72" fill="#dbdbdb" opacity="0.32"/>
<rect x="1134.81" y="663.51" width="1.5" height="95.37" fill="#d8d8d8" opacity="0.71"/>
<rect x="1130.77" y="675.14" width="2" height="102.41" fill="#cdcdcd" opacity="0.51"/>
<rect x="1430.36" y="665.4" width="1" height="70.05" fill="#d5d5d5" opacity="0.55"/>
<rect x="1450.37" y="699.39" width="1" height="63.5" fill="#c7c7c7" opacity="0.41"/>
<rect x="1209.38" y="673.07" width="2" height="48.9" fill="#d7d7d7" opacity="0.37"/>
<rect x="1487.51" y="710.19" width="1.5" height="118.23" fill="#d2d2d2" opacity="0.52"/>
<rect x="1283.92" y="755.21" width="2" height="46.71" fill="#d2d2d2" opacity="0.6"/>
<rect x="1137.23" y="705.29" width="1" height="85.1" fill="#dadada" opacity="0.45"/>
<rect x="1399.92" y="662.08" width="1" height="79.12" fill="#dbdbdb" opacity="0.48"/>
<rect x="1380" y="667.7" width="1.5" height="49.44" fill="#cacaca" opacity="0.55"/>
<rect x="1450.17" y="679.61" width="1" height="50.06" fill="#dadada" opacity="0.75"/>
<rect x="1235.27" y="678.79" width="1.5" height="41.32" fill="#d2d2d2" opacity="0.37"/>
<rect x="1299.58" y="726.9" width="1" height="77.72" fill="#d6d6d6" opacity="0.53"/>
<rect x="1267.28" y="793.86" width="1" height="29.24" fill="#cacaca" opacity="0.42"/>
<rect x="1256.88" y="683.41" width="1.5" height="49.04" fill="#c9c9c9" opacity="0.48"/>
<rect x="1476.66" y="687.04" width="1" height="46.91" fill="#cecece" opacity="0.58"/>
<rect x="1266.19" y="657.4" width="1" height="29.59" fill="#d9d9d9" opacity="0.57"/>
<rect x="1338.63" y="695.25" width="1" height="80.67" fill="#d6d6d6" opacity="0.71"/>
<rect x="1118.61" y="656.78" width="1" height="79.45" fill="#cfcfcf" opacity="0.6"/>
<rect x="1202.17" y="740.56" width="1" height="36.84" fill="#d7d7d7" opacity="0.35"/>
<rect x="1300.3" y="678.75" width="2" height="105.55" fill="#dadada" opacity="0.66"/>
<rect x="1360.45" y="652.88" width="1" height="41.33" fill="#dadada" opacity="0.55"/>
<rect x="1355.9" y="753.16" width="1.5" height="66.9" fill="#dadada" opacity="0.64"/>
<rect x="1172.43" y="653.67" width="1.5" height="92.76" fill="#cfcfcf" opacity="0.72"/>
<rect x="1272.97" y="717.98" width="1.5" height="95.3" fill="#cbcbcb" opacity="0.46"/>
<rect x="1157.85" y="664.85" width="2" height="62.38" fill="#dadada" opacity="0.68"/>
<rect x="1282.78" y="695.18" width="1.5" height="83.97" fill="#cecece" opacity="0.34"/>
<rect x="1163.48" y="672.36" width="1" height="106.74" fill="#d6d6d6" opacity="0.6"/>
<rect x="1209.34" y="706.83" width="2" height="91.15" fill="#cecece" opacity="0.65"/>
<rect x="1311.77" y="651.19" width="1" height="106.49" fill="#d5d5d5" opacity="0.42"/>
<rect x="1106.5" y="652.98" width="1" height="92.42" fill="#dadada" opacity="0.57"/>
<rect x="1480.91" y="739.75" width="2" height="35.98" fill="#d2d2d2" opacity="0.45"/>
<rect x="1129.26" y="656.59" width="1" height="26.1" fill="#d4d4d4" opacity="0.44"/>
<rect x="1367.32" y="650.53" width="2" height="84.38" fill="#cacaca" opacity="0.37"/>
<rect x="1370.74" y="650.27" width="1" height="100.02" fill="#dbdbdb" opacity="0.49"/>
<rect x="1158.3" y="679.14" width="1" height="44.2" fill="#d7d7d7" opacity="0.57"/>
<rect x="1114.99" y="681.4" width="1" height="84.94" fill="#dbdbdb" opacity="0.33"/>
<rect x="1420.82" y="671.15" width="1.5" height="117.56" fill="#cbcbcb" opacity="0.56"/>
<rect x="1410.86" y="694.56" width="2" height="91.27" fill="#cecece" opacity="0.71"/>
<rect x="1488.74" y="687.03" width="1.5" height="55.36" fill="#cbcbcb" opacity="0.46"/>
<rect x="1291.17" y="666.73" width="1" height="67.91" fill="#d8d8d8" opacity="0.68"/>
<rect x="1470.53" y="655.53" width="1" height="64.91" fill="#d6d6d6" opacity="0.36"/>
<rect x="1435.34" y="712.7" width="1.5" height="63.58" fill="#dadada" opacity="0.49"/>
<rect x="1296.9" y="720.97" width="1.5" height="43.99" fill="#d1d1d1" opacity="0.67"/>
<rect x="1368.57" y="656.9" width="1" height="25.66" fill="#c9c9c9" opacity="0.46"/>
<rect x="1443.65" y="678.54" width="2" height="100.16" fill="#d3d3d3" opacity="0.72"/>
<rect x="1377.13" y="768.97" width="1" height="36.51" fill="#d8d8d8" opacity="0.7"/>
<rect x="1376.19" y="697.81" width="1" height="38.92" fill="#c7c7c7" opacity="0.54"/>
<rect x="1431.79" y="677.48" width="1" height="92.6" fill="#d1d1d1" opacity="0.4"/>
<rect x="1118.48" y="758.62" width="1" height="56.37" fill="#d0d0d0" opacity="0.43"/>
<rect x="1379.55" y="740.07" width="2" height="39.08" fill="#cccccc" opacity="0.42"/>
<rect x="1196.93" y="661.85" width="1.5" height="29.8" fill="#cbcbcb" opacity="0.35"/>
<rect x="1367.75" y="691.98" width="2" height="77.58" fill="#d9d9d9" opacity="0.46"/>
<rect x="1305.27" y="668.85" width="2" height="109.65" fill="#d7d7d7" opacity="0.37"/>
<rect x="1209.18" y="690.03" width="2" height="104.83" fill="#c8c8c8" opacity="0.56"/>
<rect x="1145" y="654.77" width="2" height="118.7" fill="#cccccc" opacity="0.54"/>
<rect x="1181.35" y="687.04" width="1" height="31.73" fill="#d7d7d7" opacity="0.39"/>
<rect x="1115.06" y="658" width="1.5" height="75.59" fill="#cccccc" opacity="0.71"/>
<rect x="1288.06" y="721.69" width="1" height="26.44" fill="#c7c7c7" opacity="0.51"/>
<rect x="1101.04" y="663.69" width="2" height="30.94" fill="#cecece" opacity="0.4"/>
<rect x="1196.51" y="694" width="2" height="98.29" fill="#d8d8d8" opacity="0.53"/>
<rect x="1208.06" y="694.84" width="1" height="73.96" fill="#cecece" opacity="0.36"/>
<rect x="1346.71" y="662.89" width="1" height="36.79" fill="#d5d5d5" opacity="0.67"/>
<rect x="1212.46" y="707.47" width="2" height="68.48" fill="#d4d4d4" opacity="0.73"/>
<rect x="1319.7" y="676.52" width="1" height="113.58" fill="#d7d7d7" opacity="0.69"/>
<rect x="1180.82" y="681.81" width="2" height="35.66" fill="#d0d0d0" opacity="0.74"/>
<rect x="1293.61" y="759.81" width="1" height="36.03" fill="#d5d5d5" opacity="0.64"/>
<rect x="1447.85" y="732.46" width="1" height="97.91" fill="#c8c8c8" opacity="0.4"/>
<rect x="1434.96" y="701.69" width="1" height="99.94" fill="#d6d6d6" opacity="0.74"/>
<rect x="1439.53" y="709.44" width="1" height="56.86" fill="#d6d6d6" opacity="0.31"/>
<rect x="1433.42" y="724.4" width="1" height="54.92" fill="#cdcdcd" opacity="0.36"/>
<rect x="1225.33" y="676.67" width="1" height="81.49" fill="#c8c8c8" opacity="0.6"/>
<rect x="1205.61" y="655.24" width="1" height="92.91" fill="#d9d9d9" opacity="0.74"/>
<rect x="1274.84" y="773.92" width="1.5" height="50.34" fill="#d7d7d7" opacity="0.62"/>
<rect x="1291.97" y="720.94" width="1" height="106.69" fill="#c8c8c8" opacity="0.31"/>
<rect x="1327" y="666.1" width="1" height="92.63" fill="#d9d9d9" opacity="0.32"/>
<rect x="1126.05" y="711.73" width="1.5" height="71.97" fill="#cccccc" opacity="0.65"/>
<rect x="1130.3" y="740.93" width="1" height="51.03" fill="#cdcdcd" opacity="0.49"/>
<rect x="1229.3" y="693.44" width="1" height="43.27" fill="#cccccc" opacity="0.38"/>
<rect x="1325.36" y="740.99" width="1" height="88.93" fill="#dbdbdb" opacity="0.74"/>
<rect x="1312.43" y="697.37" width="1.5" height="51.17" fill="#d2d2d2" opacity="0.44"/>
<rect x="1411.22" y="712.08" width="1.5" height="110.64" fill="#d6d6d6" opacity="0.7"/>
<rect x="1379.49" y="692.74" width="1" height="115" fill="#d3d3d3" opacity="0.55"/>
<rect x="1420.31" y="752.47" width="1.5" height="67.42" fill="#dadada" opacity="0.7"/>
<rect x="1468.23" y="728.47" width="2" height="47.54" fill="#c9c9c9" opacity="0.36"/>
<rect x="1269.03" y="664.9" width="2" height="115.09" fill="#dbdbdb" opacity="0.74"/>
<rect x="1263.2" y="720.17" width="1" height="73.55" fill="#d6d6d6" opacity="0.32"/>
<rect x="1276.42" y="730.76" width="1.5" height="55.3" fill="#dadada" opacity="0.48"/>
<rect x="1232.6" y="703.27" width="2" height="91.1" fill="#d8d8d8" opacity="0.63"/>
<rect x="1222.2" y="740.05" width="2" height="33.54" fill="#d5d5d5" opacity="0.47"/>
<rect x="1423.59" y="789.75" width="2" height="42.92" fill="#cccccc" opacity="0.58"/>
<rect x="1210.98" y="704.62" width="2" height="71.23" fill="#d9d9d9" opacity="0.69"/>
<rect x="1140.42" y="712.87" width="2" height="30.46" fill="#d5d5d5" opacity="0.7"/>
<rect x="1338.13" y="689.2" width="2" height="116.28" fill="#d4d4d4" opacity="0.41"/>
<rect x="1529.03" y="725.12" width="1.5" height="95.68" fill="#d1d1d1" opacity="0.68"/>
<rect x="1684.51" y="684.9" width="1" height="42.89" fill="#d0d0d0" opacity="0.73"/>
<rect x="1490.88" y="717.28" width="1" height="101.82" fill="#dadada" opacity="0.36"/>
<rect x="1583.98" y="775.43" width="1.5" height="34.81" fill="#c9c9c9" opacity="0.6"/>
<rect x="1506.75" y="732.7" width="1" height="94.18" fill="#cdcdcd" opacity="0.59"/>
<rect x="1794.83" y="680.94" width="1" height="105.62" fill="#d5d5d5" opacity="0.65"/>
<rect x="1790.36" y="689.7" width="1" height="109.4" fill="#cccccc" opacity="0.64"/>
<rect x="1771.98" y="729.79" width="1.5" height="81.15" fill="#cbcbcb" opacity="0.33"/>
<rect x="1755.01" y="687.07" width="2" height="43.77" fill="#c9c9c9" opacity="0.7"/>
<rect x="1649.84" y="787.31" width="1" height="56.45" fill="#cfcfcf" opacity="0.74"/>
<rect x="1587.4" y="789.04" width="1.5" height="37.66" fill="#cdcdcd" opacity="0.66"/>
<rect x="1700.26" y="727.31" width="1" height="67.99" fill="#d5d5d5" opacity="0.38"/>
<rect x="1542.24" y="687.63" width="1" height="86.68" fill="#dadada" opacity="0.55"/>
<rect x="1547.54" y="713.94" width="1" height="72.24" fill="#cdcdcd" opacity="0.63"/>
<rect x="1490.18" y="684.57" width="1" height="114.33" fill="#c8c8c8" opacity="0.51"/>
<rect x="1579.39" y="789.6" width="2" height="35.37" fill="#cecece" opacity="0.54"/>
<rect x="1628.71" y="724.53" width="1" height="30.68" fill="#d3d3d3" opacity="0.31"/>
<rect x="1567.28" y="709.21" width="1" height="33.83" fill="#d9d9d9" opacity="0.33"/>
<rect x="1565.63" y="714.07" width="2" height="105.62" fill="#dbdbdb" opacity="0.58"/>
<rect x="1519.68" y="727.19" width="2" height="100.66" fill="#d1d1d1" opacity="0.58"/>
<rect x="1579.52" y="720.95" width="1" height="94.34" fill="#d4d4d4" opacity="0.67"/>
<rect x="1756.91" y="743.21" width="1" height="68.67" fill="#cacaca" opacity="0.39"/>
<rect x="1568.82" y="722.2" width="1" height="113.06" fill="#dbdbdb" opacity="0.74"/>
<rect x="1771.99" y="727.89" width="1" height="86.19" fill="#cdcdcd" opacity="0.72"/>
<rect x="1734.29" y="715.24" width="1.5" height="103.96" fill="#dadada" opacity="0.66"/>
<rect x="1757.02" y="690.5" width="1" height="116.85" fill="#d0d0d0" opacity="0.54"/>
<rect x="1716.3" y="698.97" width="2" height="74.31" fill="#d1d1d1" opacity="0.35"/>
<rect x="1750.74" y="764.45" width="1" height="59.75" fill="#cccccc" opacity="0.57"/>
<rect x="1650.69" y="732.81" width="2" height="77.69" fill="#d1d1d1" opacity="0.43"/>
<rect x="1517.47" y="709.67" width="1" height="83.26" fill="#dadada" opacity="0.7"/>
<rect x="1665.75" y="702.04" width="1" height="42.19" fill="#d8d8d8" opacity="0.65"/>
<rect x="1526.73" y="754.75" width="1" height="51.68" fill="#d7d7d7" opacity="0.51"/>
<rect x="1636.83" y="749.46" width="1" height="31.04" fill="#d5d5d5" opacity="0.74"/>
<rect x="1723.83" y="719.36" width="1.5" height="70.5" fill="#d7d7d7" opacity="0.58"/>
<rect x="1734.37" y="705.53" width="1" height="53.01" fill="#c9c9c9" opacity="0.65"/>
<rect x="1770.54" y="736.65" width="2" height="83.88" fill="#d0d0d0" opacity="0.61"/>
<rect x="1559.17" y="716.88" width="1.5" height="74.34" fill="#d5d5d5" opacity="0.53"/>
<rect x="1612.74" y="750.4" width="2" height="93.13" fill="#d8d8d8" opacity="0.59"/>
<rect x="1533.28" y="732.26" width="1" height="60" fill="#d7d7d7" opacity="0.5"/>
<rect x="1667.29" y="744.12" width="1" height="47.88" fill="#d2d2d2" opacity="0.39"/>
<rect x="1576.25" y="737.32" width="2" height="28.77" fill="#cecece" opacity="0.6"/>
<rect x="1609.05" y="699.33" width="1" height="69.66" fill="#d1d1d1" opacity="0.74"/>
<rect x="1733.67" y="766.4" width="1" height="60.57" fill="#d5d5d5" opacity="0.4"/>
<rect x="1527.45" y="699.52" width="2" height="107.43" fill="#d9d9d9" opacity="0.62"/>
<rect x="1538.63" y="686.27" width="2" height="116.14" fill="#cacaca" opacity="0.32"/>
<rect x="1699.36" y="718.33" width="1" height="33.7" fill="#d7d7d7" opacity="0.49"/>
<rect x="1664.62" y="691.59" width="1" height="109.21" fill="#d9d9d9" opacity="0.66"/>
<rect x="1591.28" y="703.36" width="2" height="26.53" fill="#d4d4d4" opacity="0.34"/>
<rect x="1683.22" y="717.48" width="2" height="60.6" fill="#d7d7d7" opacity="0.35"/>
<rect x="1756.41" y="705.66" width="1.5" height="95.3" fill="#c7c7c7" opacity="0.7"/>
<rect x="1737.33" y="755.63" width="1" height="32.2" fill="#c7c7c7" opacity="0.7"/>
<rect x="1707.39" y="763.52" width="1" height="67.99" fill="#d0d0d0" opacity="0.49"/>
<rect x="1678.84" y="759.65" width="1" height="77.48" fill="#d2d2d2" opacity="0.49"/>
<rect x="1511.08" y="680.59" width="1.5" height="93.72" fill="#c9c9c9" opacity="0.5"/>
<rect x="1670.44" y="766.05" width="1.5" height="48.39" fill="#d4d4d4" opacity="0.58"/>
<rect x="1661.17" y="724.94" width="1" height="114.54" fill="#d1d1d1" opacity="0.5"/>
<rect x="1505.3" y="780.42" width="1" height="55.84" fill="#cccccc" opacity="0.52"/>
<rect x="1763.16" y="694.12" width="1.5" height="100.44" fill="#d4d4d4" opacity="0.63"/>
<rect x="1683.79" y="698.52" width="1.5" height="31" fill="#d3d3d3" opacity="0.7"/>
<rect x="1688.95" y="733.51" width="1.5" height="103.65" fill="#c7c7c7" opacity="0.41"/>
<rect x="1649.95" y="682.13" width="1.5" height="96.47" fill="#dbdbdb" opacity="0.73"/>
<rect x="1667.46" y="751.5" width="1.5" height="40.93" fill="#cacaca" opacity="0.54"/>
<rect x="1602.74" y="731.09" width="1" height="39.67" fill="#d4d4d4" opacity="0.7"/>
<rect x="1574.9" y="696.98" width="1" height="118.89" fill="#cfcfcf" opacity="0.5"/>
<rect x="1703.02" y="684.19" width="1" height="95.47" fill="#d6d6d6" opacity="0.72"/>
<rect x="1653.47" y="691.61" width="1" height="117.78" fill="#cecece" opacity="0.55"/>
<rect x="1702.26" y="697.59" width="1.5" height="65.8" fill="#d4d4d4" opacity="0.64"/>
<rect x="1626.56" y="772.08" width="1.5" height="41.68" fill="#d6d6d6" opacity="0.36"/>
<rect x="1580.85" y="682.99" width="1.5" height="90.58" fill="#d7d7d7" opacity="0.49"/>
<rect x="1526.26" y="725.81" width="1" height="110.04" fill="#d0d0d0" opacity="0.56"/>
<rect x="1719.58" y="766.77" width="1" height="61.97" fill="#d5d5d5" opacity="0.37"/>
<rect x="1685.09" y="683.75" width="1.5" height="100.02" fill="#cdcdcd" opacity="0.7"/>
<rect x="1678.85" y="690.88" width="1" height="111.46" fill="#dadada" opacity="0.39"/>
<rect x="1718.25" y="726.85" width="1" height="42.05" fill="#cdcdcd" opacity="0.51"/>
<rect x="1758.71" y="775.52" width="1" height="40.45" fill="#cecece" opacity="0.63"/>
<rect x="1660.1" y="694.29" width="1.5" height="36.29" fill="#c8c8c8" opacity="0.44"/>
<rect x="1491.58" y="763.89" width="2" height="36.59" fill="#d0d0d0" opacity="0.57"/>
<rect x="1686.5" y="720.25" width="1" height="52.74" fill="#c9c9c9" opacity="0.46"/>
<rect x="1502.98" y="710.84" width="1.5" height="114.05" fill="#dbdbdb" opacity="0.74"/>
<rect x="1490.69" y="786.31" width="1.5" height="45.42" fill="#cacaca" opacity="0.44"/>
<rect x="1524.83" y="691.73" width="1" height="51.41" fill="#d5d5d5" opacity="0.63"/>
<rect x="1724.94" y="701.27" width="1" height="107.49" fill="#d3d3d3" opacity="0.5"/>
<rect x="1531.46" y="726.34" width="1.5" height="76.57" fill="#cfcfcf" opacity="0.57"/>
<rect x="1632.55" y="693.46" width="2" height="25.43" fill="#cdcdcd" opacity="0.67"/>
<rect x="1694.83" y="719.58" width="1" height="91.76" fill="#cecece" opacity="0.43"/>
<rect x="1583.09" y="762.1" width="2" height="79.24" fill="#d6d6d6" opacity="0.57"/>
<rect x="1492.9" y="684.34" width="1.5" height="101.16" fill="#d8d8d8" opacity="0.45"/>
<rect x="1679.18" y="710.53" width="2" height="34.48" fill="#d8d8d8" opacity="0.31"/>
<rect x="1621.31" y="737.1" width="2" height="86.74" fill="#cbcbcb" opacity="0.52"/>
<rect x="1768.89" y="684.39" width="2" height="42.67" fill="#cccccc" opacity="0.62"/>
<rect x="1511.55" y="764.56" width="1.5" height="26.99" fill="#cdcdcd" opacity="0.42"/>
<rect x="1770.04" y="748.46" width="1" height="30.25" fill="#d7d7d7" opacity="0.42"/>
<rect x="1587.6" y="720.51" width="1" height="89.93" fill="#cccccc" opacity="0.38"/>
<rect x="1734.16" y="712.19" width="1.5" height="107.64" fill="#d8d8d8" opacity="0.75"/>
<rect x="1744.14" y="687.81" width="1" height="72.35" fill="#dbdbdb" opacity="0.4"/>
<rect x="1531.79" y="690.87" width="1" height="43.06" fill="#cbcbcb" opacity="0.7"/>
<rect x="1766.28" y="700.28" width="2" height="107.76" fill="#d3d3d3" opacity="0.6"/>
<rect x="1680.33" y="789.95" width="1" height="43.65" fill="#d2d2d2" opacity="0.4"/>
<rect x="1545.86" y="768.35" width="2" height="66.55" fill="#d5d5d5" opacity="0.45"/>
<rect x="1592" y="693.95" width="2" height="112.97" fill="#cdcdcd" opacity="0.72"/>
<rect x="1567.57" y="712.29" width="2" height="119.23" fill="#d9d9d9" opacity="0.69"/>
<rect x="1503.33" y="680.99" width="2" height="55.23" fill="#dbdbdb" opacity="0.49"/>
<rect x="1741.95" y="682.19" width="1.5" height="94.84" fill="#cecece" opacity="0.41"/>
<rect x="1710.93" y="697.39" width="1.5" height="99.12" fill="#d2d2d2" opacity="0.46"/>
<rect x="1627" y="699.21" width="1" height="48.4" fill="#d8d8d8" opacity="0.37"/>
<rect x="1718.57" y="715.29" width="1" height="56.06" fill="#c8c8c8" opacity="0.31"/>
<rect x="1732.24" y="731.4" width="1.5" height="90.68" fill="#d4d4d4" opacity="0.67"/>
<rect x="1603.42" y="742.81" width="1.5" height="63.61" fill="#d4d4d4" opacity="0.32"/>
<rect x="1723.42" y="721.8" width="1.5" height="80.29" fill="#c8c8c8" opacity="0.73"/>
<rect x="1553.23" y="690.29" width="1.5" height="69.38" fill="#d6d6d6" opacity="0.59"/>
<rect x="1804.26" y="735.98" width="1.5" height="25.85" fill="#d9d9d9" opacity="0.45"/>
<rect x="2001.89" y="735.92" width="1" height="30.52" fill="#d5d5d5" opacity="0.51"/>
<rect x="1843.11" y="736.94" width="1.5" height="76.64" fill="#d5d5d5" opacity="0.32"/>
<rect x="1865.98" y="678.66" width="1" height="95.35" fill="#d1d1d1" opacity="0.33"/>
<rect x="1977.91" y="679.1" width="1" height="42.79" fill="#d7d7d7" opacity="0.32"/>
<rect x="1886.62" y="711.4" width="1" height="82.23" fill="#d3d3d3" opacity="0.73"/>
<rect x="1855.98" y="676.03" width="1.5" height="73.08" fill="#dbdbdb" opacity="0.35"/>
<rect x="1934.5" y="714.96" width="1.5" height="50.47" fill="#cccccc" opacity="0.36"/>
<rect x="1900.92" y="750.77" width="1.5" height="50.76" fill="#c7c7c7" opacity="0.51"/>
<rect x="2043.88" y="683.62" width="2" height="97.34" fill="#d7d7d7" opacity="0.62"/>
<rect x="1840.12" y="743.67" width="1" height="62.31" fill="#d7d7d7" opacity="0.36"/>
<rect x="1954.41" y="791.63" width="1.5" height="26.24" fill="#d4d4d4" opacity="0.52"/>
<rect x="1845.6" y="704.93" width="1" height="78.87" fill="#d6d6d6" opacity="0.32"/>
<rect x="1811.65" y="686.31" width="1.5" height="99.55" fill="#d7d7d7" opacity="0.74"/>
<rect x="1831" y="715.62" width="1" height="84.43" fill="#d4d4d4" opacity="0.41"/>
<rect x="2030.58" y="755.7" width="1" height="38.74" fill="#d7d7d7" opacity="0.4"/>
<rect x="2044.99" y="728.54" width="1" height="104.92" fill="#dadada" opacity="0.4"/>
<rect x="1853.08" y="720.06" width="1" height="47.71" fill="#cfcfcf" opacity="0.69"/>
<rect x="1919.65" y="675.61" width="1" height="94.12" fill="#cacaca" opacity="0.5"/>
<rect x="2025.11" y="683.85" width="1" height="110.44" fill="#d7d7d7" opacity="0.41"/>
<rect x="1958.08" y="767.34" width="1.5" height="50.05" fill="#cecece" opacity="0.72"/>
<rect x="1928.38" y="687.92" width="1" height="61.39" fill="#cecece" opacity="0.4"/>
<rect x="1915.05" y="672.58" width="2" height="30.03" fill="#dadada" opacity="0.5"/>
<rect x="1934.94" y="729.91" width="1" height="94.19" fill="#d1d1d1" opacity="0.39"/>
<rect x="1931.13" y="681.95" width="1.5" height="72.31" fill="#d6d6d6" opacity="0.54"/>
<rect x="1861.75" y="684.42" width="2" height="93.05" fill="#cdcdcd" opacity="0.39"/>
<rect x="1994.58" y="702.37" width="1.5" height="45.01" fill="#cfcfcf" opacity="0.48"/>
<rect x="2028.75" y="724.93" width="2" height="107.43" fill="#dbdbdb" opacity="0.55"/>
<rect x="2009.86" y="695.42" width="1" height="40.43" fill="#d7d7d7" opacity="0.43"/>
<rect x="1995.03" y="725.88" width="1" height="90.8" fill="#cccccc" opacity="0.66"/>
<rect x="2030.05" y="792.54" width="1.5" height="40.31" fill="#c7c7c7" opacity="0.62"/>
<rect x="1945.63" y="696.11" width="1" height="61.92" fill="#c7c7c7" opacity="0.32"/>
<rect x="1979.64" y="681.08" width="1" height="57.18" fill="#c7c7c7" opacity="0.38"/>
<rect x="1871.01" y="761.18" width="2" height="41.78" fill="#cdcdcd" opacity="0.58"/>
<rect x="1836.41" y="760.84" width="2" height="59.61" fill="#c8c8c8" opacity="0.57"/>
<rect x="1866.97" y="672.39" width="1" height="116.87" fill="#c8c8c8" opacity="0.7"/>
<rect x="1926.46" y="691.82" width="1" height="110.48" fill="#cdcdcd" opacity="0.39"/>
<rect x="1958.17" y="680.52" width="1.5" height="117.67" fill="#d2d2d2" opacity="0.54"/>
<rect x="1885.81" y="693.83" width="1" height="57.05" fill="#d4d4d4" opacity="0.32"/>
<rect x="1953.7" y="701.44" width="2" height="28.33" fill="#cfcfcf" opacity="0.61"/>
<rect x="1901.97" y="699.74" width="1.5" height="101.93" fill="#d3d3d3" opacity="0.53"/>
<rect x="1933.18" y="689.65" width="1.5" height="25.58" fill="#dbdbdb" opacity="0.45"/>
<rect x="1999.26" y="685.12" width="1" height="117.94" fill="#cacaca" opacity="0.43"/>
<rect x="1850.14" y="701.96" width="1" height="89.39" fill="#d2d2d2" opacity="0.62"/>
<rect x="1954.4" y="702.6" width="2" height="34.91" fill="#cccccc" opacity="0.75"/>
<rect x="1899.69" y="764.42" width="1.5" height="37.68" fill="#d0d0d0" opacity="0.57"/>
<rect x="1918.41" y="673.96" width="1" height="66.12" fill="#d2d2d2" opacity="0.62"/>
<rect x="1814.68" y="697.7" width="2" height="69.91" fill="#d5d5d5" opacity="0.42"/>
<rect x="1983.65" y="674.92" width="1.5" height="91.09" fill="#d8d8d8" opacity="0.52"/>
<rect x="1804.98" y="747.66" width="1.5" height="44.26" fill="#dadada" opacity="0.52"/>
<rect x="2028.51" y="780.16" width="1" height="29.39" fill="#c9c9c9" opacity="0.45"/>
<rect x="1904.54" y="681.13" width="1" height="102.7" fill="#c7c7c7" opacity="0.52"/>
<rect x="1962.61" y="731.2" width="1" height="93.9" fill="#dbdbdb" opacity="0.54"/>
<rect x="1840.01" y="781.78" width="1" height="27.13" fill="#c8c8c8" opacity="0.59"/>
<rect x="1986.26" y="703.76" width="2" height="91.42" fill="#d4d4d4" opacity="0.5"/>
<rect x="1912.04" y="688.5" width="1" height="105.25" fill="#d5d5d5" opacity="0.68"/>
<rect x="1983.31" y="688.02" width="1" height="114.7" fill="#d1d1d1" opacity="0.52"/>
<rect x="2030.42" y="707.17" width="1" height="45.81" fill="#cacaca" opacity="0.75"/>
<rect x="2031.41" y="704.86" width="2" height="105.73" fill="#cacaca" opacity="0.45"/>
<rect x="1931.28" y="690.56" width="1" height="92.31" fill="#d3d3d3" opacity="0.41"/>
<rect x="2296.63" y="732.74" width="1.5" height="48.03" fill="#d1d1d1" opacity="0.45"/>
<rect x="2099.42" y="661.27" width="1" height="68.3" fill="#d5d5d5" opacity="0.64"/>
<rect x="2464.34" y="660.99" width="1.5" height="26.9" fill="#cbcbcb" opacity="0.71"/>
<rect x="2455.29" y="651.73" width="2" height="116.05" fill="#dbdbdb" opacity="0.55"/>
<rect x="2544.89" y="663.89" width="1.5" height="107.61" fill="#dadada" opacity="0.57"/>
<rect x="2117.14" y="727.32" width="1" height="37.52" fill="#dbdbdb" opacity="0.62"/>
<rect x="2050.53" y="693.12" width="1" height="111.13" fill="#cbcbcb" opacity="0.54"/>
<rect x="2265.85" y="663.65" width="1" height="93.77" fill="#d3d3d3" opacity="0.45"/>
<rect x="2355.39" y="680.71" width="1" height="112.51" fill="#cbcbcb" opacity="0.72"/>
<rect x="2422.83" y="734.45" width="1.5" height="25.53" fill="#cbcbcb" opacity="0.4"/>
<rect x="2094.64" y="712.51" width="2" height="105.73" fill="#cccccc" opacity="0.43"/>
<rect x="2237.04" y="700.56" width="1.5" height="61.47" fill="#cbcbcb" opacity="0.44"/>
<rect x="2094.56" y="705.4" width="1" height="77.89" fill="#d8d8d8" opacity="0.68"/>
<rect x="2240.89" y="666.86" width="1.5" height="64.86" fill="#cfcfcf" opacity="0.61"/>
<rect x="2218.95" y="726.31" width="1" height="59.24" fill="#d7d7d7" opacity="0.43"/>
<rect x="2356.27" y="658.26" width="1" height="95.41" fill="#d0d0d0" opacity="0.48"/>
<rect x="2088.07" y="714.34" width="1" height="90.17" fill="#d8d8d8" opacity="0.41"/>
<rect x="2426.05" y="659.59" width="1" height="92.75" fill="#cfcfcf" opacity="0.68"/>
<rect x="2298.42" y="779.86" width="1" height="41.96" fill="#d0d0d0" opacity="0.64"/>
<rect x="2245.38" y="651.24" width="2" height="70.47" fill="#d6d6d6" opacity="0.73"/>
<rect x="2130.19" y="690.6" width="2" height="69.76" fill="#d4d4d4" opacity="0.48"/>
<rect x="2151.13" y="760.94" width="1" height="58.62" fill="#d9d9d9" opacity="0.45"/>
<rect x="2155.86" y="705.11" width="1.5" height="51.64" fill="#dadada" opacity="0.65"/>
<rect x="2603.14" y="675.51" width="2" height="60.43" fill="#cfcfcf" opacity="0.31"/>
<rect x="2169.92" y="692.3" width="1" height="114.76" fill="#c8c8c8" opacity="0.35"/>
<rect x="2447.88" y="715.6" width="1.5" height="41.09" fill="#dbdbdb" opacity="0.3"/>
<rect x="2292.87" y="690.09" width="2" height="83.79" fill="#c7c7c7" opacity="0.37"/>
<rect x="2085.78" y="688.36" width="1.5" height="99.79" fill="#c8c8c8" opacity="0.47"/>
<rect x="2106.01" y="753.49" width="2" height="29.87" fill="#d3d3d3" opacity="0.3"/>
<rect x="2351.19" y="685.93" width="1" height="80.5" fill="#d1d1d1" opacity="0.65"/>
<rect x="2296.35" y="710.82" width="2" height="106.39" fill="#d7d7d7" opacity="0.3"/>
<rect x="2532.1" y="675.14" width="1.5" height="40.34" fill="#cdcdcd" opacity="0.62"/>
<rect x="2551.57" y="671.22" width="1" height="63.12" fill="#d6d6d6" opacity="0.5"/>
<rect x="2097.45" y="749.87" width="1.5" height="34.93" fill="#d1d1d1" opacity="0.39"/>
<rect x="2339.23" y="694.56" width="1" height="105.67" fill="#cdcdcd" opacity="0.52"/>
<rect x="2550.9" y="763.84" width="1.5" height="43.35" fill="#d4d4d4" opacity="0.32"/>
<rect x="2208.04" y="683.68" width="1.5" height="47.53" fill="#cdcdcd" opacity="0.31"/>
<rect x="2079.32" y="701.18" width="1" height="64.15" fill="#cdcdcd" opacity="0.66"/>
<rect x="2566.8" y="693.97" width="2" height="110.29" fill="#d6d6d6" opacity="0.48"/>
<rect x="2529.86" y="708.28" width="1.5" height="72.75" fill="#cdcdcd" opacity="0.3"/>
<rect x="2343.95" y="673.52" width="2" height="43.68" fill="#d8d8d8" opacity="0.43"/>
<rect x="2229.93" y="724.54" width="1" height="89.82" fill="#cfcfcf" opacity="0.46"/>
<rect x="2261.43" y="698.24" width="1.5" height="74.81" fill="#c9c9c9" opacity="0.37"/>
<rect x="2365.33" y="682.03" width="2" height="108.51" fill="#c7c7c7" opacity="0.71"/>
<rect x="2202.17" y="653.83" width="1" height="109.21" fill="#dadada" opacity="0.72"/>
<rect x="2201.56" y="711.26" width="2" height="53.85" fill="#d9d9d9" opacity="0.6"/>
<rect x="2468.75" y="696.79" width="1" height="111.22" fill="#cfcfcf" opacity="0.57"/>
<rect x="2349.9" y="728.44" width="1.5" height="60.98" fill="#d1d1d1" opacity="0.7"/>
<rect x="2330.48" y="721.23" width="1.5" height="75.91" fill="#d1d1d1" opacity="0.37"/>
<rect x="2461.3" y="677.61" width="1.5" height="83.96" fill="#dadada" opacity="0.38"/>
<rect x="2095.25" y="694.01" width="1" height="102.41" fill="#d2d2d2" opacity="0.6"/>
<rect x="2281.6" y="653.08" width="1.5" height="89.27" fill="#d8d8d8" opacity="0.41"/>
<rect x="2554.65" y="673.6" width="1.5" height="117.39" fill="#d9d9d9" opacity="0.51"/>
<rect x="2533.94" y="690.45" width="2" height="66.86" fill="#c7c7c7" opacity="0.33"/>
<rect x="2279.21" y="671.95" width="2" height="115.96" fill="#dadada" opacity="0.51"/>
<rect x="2543.55" y="667.95" width="2" height="110.84" fill="#cbcbcb" opacity="0.48"/>
<rect x="2146.42" y="772.59" width="1.5" height="54.21" fill="#cdcdcd" opacity="0.67"/>
<rect x="2379.89" y="664.05" width="2" height="84.1" fill="#d7d7d7" opacity="0.44"/>
<rect x="2158.9" y="682.9" width="1" height="71.75" fill="#cacaca" opacity="0.46"/>
<rect x="2142.54" y="692.77" width="2" height="93.18" fill="#d1d1d1" opacity="0.71"/>
<rect x="2593.66" y="660.72" width="2" height="59.81" fill="#d9d9d9" opacity="0.59"/>
<rect x="2452.94" y="659.63" width="1" height="75.21" fill="#cccccc" opacity="0.69"/>
<rect x="2142.51" y="655.88" width="1" height="26.26" fill="#d0d0d0" opacity="0.34"/>
<rect x="2126.72" y="650.08" width="1.5" height="81.57" fill="#cacaca" opacity="0.43"/>
<rect x="2156.77" y="726.32" width="1" height="97.99" fill="#d2d2d2" opacity="0.55"/>
<rect x="2437.93" y="697.06" width="2" height="104.02" fill="#d7d7d7" opacity="0.4"/>
<rect x="2252.55" y="673.85" width="2" height="27.4" fill="#d4d4d4" opacity="0.33"/>
<rect x="2225.68" y="659.05" width="1" height="52.99" fill="#dadada" opacity="0.64"/>
<rect x="2274.28" y="651.9" width="1" height="80.66" fill="#cdcdcd" opacity="0.43"/>
<rect x="2372.27" y="684.58" width="1.5" height="80.44" fill="#cfcfcf" opacity="0.36"/>
<rect x="2205.84" y="760.48" width="1" height="43.07" fill="#c9c9c9" opacity="0.72"/>
<rect x="2376.56" y="749.95" width="2" height="42.93" fill="#d4d4d4" opacity="0.57"/>
<rect x="2408.45" y="723.53" width="1.5" height="28.89" fill="#d8d8d8" opacity="0.46"/>
<rect x="2297.14" y="727.66" width="1.5" height="91.33" fill="#cacaca" opacity="0.52"/>
<rect x="2439.92" y="667.2" width="2" height="41.4" fill="#d1d1d1" opacity="0.71"/>
<rect x="2604.28" y="670" width="1" height="76.62" fill="#cccccc" opacity="0.67"/>
<rect x="2441.13" y="731.99" width="1" height="54.29" fill="#d0d0d0" opacity="0.69"/>
<rect x="2415.43" y="697.9" width="1.5" height="106.8" fill="#cccccc" opacity="0.41"/>
<rect x="2589.01" y="655.38" width="1" height="88.4" fill="#cccccc" opacity="0.41"/>
<rect x="2080.22" y="747.34" width="2" height="62.34" fill="#d8d8d8" opacity="0.67"/>
<rect x="2475.52" y="705.02" width="1.5" height="56.53" fill="#d3d3d3" opacity="0.66"/>
<rect x="2587.85" y="726.31" width="1.5" height="52.23" fill="#cbcbcb" opacity="0.6"/>
<rect x="2365.05" y="738.4" width="1.5" height="57.78" fill="#d6d6d6" opacity="0.32"/>
<rect x="2325.37" y="711.61" width="1" height="65.57" fill="#d3d3d3" opacity="0.69"/>
<rect x="2146.69" y="705.24" width="1.5" height="116.06" fill="#dbdbdb" opacity="0.49"/>
<rect x="2264.24" y="711.57" width="1" height="44.07" fill="#c8c8c8" opacity="0.32"/>
<rect x="2472.22" y="695.26" width="1.5" height="85.12" fill="#d1d1d1" opacity="0.48"/>
<rect x="2277.39" y="707.9" width="2" height="91.57" fill="#d5d5d5" opacity="0.68"/>
<rect x="2390.99" y="658.28" width="1" height="112.7" fill="#cdcdcd" opacity="0.65"/>
<rect x="2153.9" y="677.28" width="2" height="54.05" fill="#cccccc" opacity="0.61"/>
<rect x="2554.62" y="704.22" width="1" height="80.64" fill="#dbdbdb" opacity="0.42"/>
<rect x="2125.7" y="729.38" width="1" height="83.23" fill="#cbcbcb" opacity="0.66"/>
<rect x="2391.1" y="720.4" width="1.5" height="86.14" fill="#cecece" opacity="0.69"/>
<rect x="2220.9" y="695.16" width="1" height="32.63" fill="#d8d8d8" opacity="0.38"/>
<rect x="2104.65" y="650.73" width="1" height="114.28" fill="#d3d3d3" opacity="0.45"/>
<rect x="2061.74" y="704.8" width="1.5" height="115.19" fill="#d1d1d1" opacity="0.4"/>
<rect x="2366.95" y="676.87" width="2" height="65.69" fill="#cccccc" opacity="0.55"/>
<rect x="2071.86" y="663.86" width="1" height="107.76" fill="#cbcbcb" opacity="0.61"/>
<rect x="2089.37" y="696.08" width="1" height="112.56" fill="#c8c8c8" opacity="0.47"/>
<rect x="2381.03" y="738.07" width="1" height="49.29" fill="#cbcbcb" opacity="0.48"/>
<rect x="2560.71" y="654.27" width="2" height="92.46" fill="#d4d4d4" opacity="0.49"/>
<rect x="2420.29" y="680.19" width="1" height="30.8" fill="#d1d1d1" opacity="0.35"/>
<rect x="2560.67" y="668.87" width="1" height="117.11" fill="#d1d1d1" opacity="0.49"/>
<rect x="2130.06" y="660.5" width="1.5" height="102.05" fill="#dadada" opacity="0.67"/>
<rect x="2105.57" y="666.92" width="1" height="78.66" fill="#dadada" opacity="0.34"/>
<rect x="2600.87" y="676.73" width="1.5" height="51.46" fill="#d1d1d1" opacity="0.38"/>
<rect x="2304.65" y="685.57" width="1" height="47.56" fill="#d2d2d2" opacity="0.35"/>
<rect x="2364.53" y="650.18" width="1" height="92.64" fill="#c8c8c8" opacity="0.5"/>
<rect x="2190.55" y="686.33" width="1" height="92.7" fill="#dadada" opacity="0.4"/>
<rect x="2170.29" y="736.87" width="1.5" height="59.07" fill="#d7d7d7" opacity="0.33"/>
<rect x="2424.58" y="750.47" width="2" height="47.03" fill="#dadada" opacity="0.57"/>
<rect x="2130.28" y="733.76" width="2" height="56.16" fill="#d7d7d7" opacity="0.45"/>
<rect x="2319.74" y="693.16" width="1" height="98.25" fill="#c8c8c8" opacity="0.38"/>
<rect x="2124.06" y="743.54" width="1.5" height="46.28" fill="#d1d1d1" opacity="0.55"/>
<rect x="2141.07" y="735.78" width="1.5" height="40.89" fill="#cbcbcb" opacity="0.54"/>
<rect x="2162.95" y="795.26" width="1.5" height="30.76" fill="#d4d4d4" opacity="0.33"/>
<rect x="2248.24" y="677.08" width="1" height="118.63" fill="#dadada" opacity="0.62"/>
<rect x="2150.81" y="700.19" width="1" height="111.65" fill="#d7d7d7" opacity="0.44"/>
<rect x="2146" y="755.14" width="2" height="28.98" fill="#c9c9c9" opacity="0.75"/>
<rect x="2461.48" y="709.37" width="1" height="42.95" fill="#d8d8d8" opacity="0.49"/>
<rect x="1473.26" y="327.68" width="1" height="56" fill="#dadada" opacity="0.64"/>
<rect x="1521.73" y="346.11" width="1" height="59.09" fill="#cfcfcf" opacity="0.68"/>
<rect x="1246.97" y="429.22" width="2" height="108.8" fill="#cdcdcd" opacity="0.74"/>
<rect x="412.17" y="556.48" width="1" height="49.1" fill="#cbcbcb" opacity="0.57"/>
<rect x="926.06" y="366.75" width="2" height="62.97" fill="#d1d1d1" opacity="0.31"/>
<rect x="1448.26" y="326.92" width="1.5" height="105.62" fill="#d5d5d5" opacity="0.64"/>
<rect x="2021.41" y="436.53" width="1.5" height="27.97" fill="#d5d5d5" opacity="0.64"/>
<rect x="1752.5" y="549.29" width="1" height="61.16" fill="#d0d0d0" opacity="0.31"/>
<rect x="1869.9" y="448.4" width="1.5" height="66.5" fill="#c7c7c7" opacity="0.37"/>
<rect x="2167.79" y="425.52" width="1.5" height="52.3" fill="#d5d5d5" opacity="0.33"/>
<rect x="1260.52" y="440.12" width="2" height="46.56" fill="#d1d1d1" opacity="0.68"/>
<rect x="531.07" y="568.94" width="1.5" height="50.17" fill="#c9c9c9" opacity="0.67"/>
<rect x="1667.4" y="500.03" width="1" height="59.15" fill="#d7d7d7" opacity="0.33"/>
<rect x="839.69" y="604.7" width="1.5" height="26.92" fill="#d9d9d9" opacity="0.59"/>
<rect x="1525.8" y="470.15" width="1.5" height="107.67" fill="#c8c8c8" opacity="0.54"/>
<rect x="2259.04" y="577.77" width="1.5" height="64.98" fill="#cbcbcb" opacity="0.44"/>
<rect x="1521.94" y="366.72" width="1" height="33.66" fill="#c7c7c7" opacity="0.74"/>
<rect x="1448.24" y="565.53" width="1.5" height="66.07" fill="#c7c7c7" opacity="0.68"/>
<rect x="2271.3" y="416.34" width="1" height="32.8" fill="#d0d0d0" opacity="0.74"/>
<rect x="1997.74" y="384.88" width="1.5" height="87.62" fill="#cccccc" opacity="0.63"/>
<rect x="2446.4" y="552.32" width="1.5" height="83.39" fill="#d9d9d9" opacity="0.67"/>
<rect x="2420.07" y="311.1" width="1.5" height="116.59" fill="#d3d3d3" opacity="0.73"/>
<rect x="416.01" y="305.15" width="1.5" height="57.03" fill="#d3d3d3" opacity="0.69"/>
<rect x="2071.81" y="563.88" width="1" height="42.58" fill="#cecece" opacity="0.62"/>
<rect x="1803.58" y="378.38" width="2" height="98.38" fill="#d7d7d7" opacity="0.73"/>
<rect x="1183.77" y="544.08" width="1" height="110.92" fill="#d6d6d6" opacity="0.43"/>
<rect x="1272.19" y="535.77" width="1.5" height="96.43" fill="#d7d7d7" opacity="0.7"/>
<rect x="1464.42" y="562.34" width="1.5" height="53.1" fill="#cacaca" opacity="0.48"/>
<rect x="1598.39" y="400.62" width="1.5" height="92.88" fill="#cacaca" opacity="0.48"/>
<rect x="824.79" y="574.75" width="1.5" height="40.58" fill="#dadada" opacity="0.55"/>
<rect x="469.62" y="379.56" width="1" height="28.66" fill="#cecece" opacity="0.73"/>
<rect x="1221.52" y="559.59" width="1" height="29.01" fill="#d3d3d3" opacity="0.55"/>
<rect x="1937.28" y="409.35" width="2" height="41.48" fill="#d8d8d8" opacity="0.3"/>
<rect x="1935.75" y="500.33" width="1" height="68.72" fill="#cbcbcb" opacity="0.34"/>
<rect x="2297.61" y="448.18" width="1.5" height="86.71" fill="#d8d8d8" opacity="0.46"/>
<rect x="2042.28" y="532.47" width="1.5" height="92.81" fill="#dbdbdb" opacity="0.66"/>
<rect x="472.82" y="416.01" width="1" height="103.58" fill="#cdcdcd" opacity="0.55"/>
<rect x="1667.65" y="502.26" width="1.5" height="32.74" fill="#d3d3d3" opacity="0.32"/>
<rect x="1234.68" y="509.56" width="1" height="32.68" fill="#c8c8c8" opacity="0.7"/>
<rect x="1609.64" y="529.55" width="1" height="65.79" fill="#d5d5d5" opacity="0.48"/></g>
<linearGradient id="lg0" x1="0" y1="0" x2="0" y2="1"><stop offset="0" stop-color="#d6d6d6"/><stop offset="0.97" stop-color="#d6d6d6" stop-opacity="1"/><stop offset="1" stop-color="#d6d6d6" stop-opacity="0"/></linearGradient>
<rect x="388" y="162" width="2" height="634" fill="url(#lg0)"/>
<linearGradient id="lg1" x1="0" y1="0" x2="0" y2="1"><stop offset="0" stop-color="#d9d9d9"/><stop offset="0.94" stop-color="#d9d9d9" stop-opacity="1"/><stop offset="1" stop-color="#d9d9d9" stop-opacity="0"/></linearGradient>
<rect x="394.75" y="162" width="2.5" height="678" fill="url(#lg1)"/>
<linearGradient id="lg2" x1="0" y1="0" x2="0" y2="1"><stop offset="0" stop-color="#dedede"/><stop offset="0.96" stop-color="#dedede" stop-opacity="1"/><stop offset="1" stop-color="#dedede" stop-opacity="0"/></linearGradient>
<rect x="476.5" y="162" width="1" height="682" fill="url(#lg2)"/>
<linearGradient id="lg3" x1="0" y1="0" x2="0" y2="1"><stop offset="0" stop-color="#dbdbdb"/><stop offset="0.96" stop-color="#dbdbdb" stop-opacity="1"/><stop offset="1" stop-color="#dbdbdb" stop-opacity="0"/></linearGradient>
<rect x="497.5" y="162" width="6" height="695" fill="url(#lg3)"/>
<linearGradient id="lg4" x1="0" y1="0" x2="0" y2="1"><stop offset="0" stop-color="#f0f0f0" stop-opacity="0"/><stop offset="0.27" stop-color="#f0f0f0" stop-opacity="1"/><stop offset="0.82" stop-color="#f0f0f0" stop-opacity="1"/><stop offset="1" stop-color="#f0f0f0" stop-opacity="0"/></linearGradient>
<rect x="498" y="620" width="5" height="220" fill="url(#lg4)"/>
<linearGradient id="lg5" x1="0" y1="0" x2="0" y2="1"><stop offset="0" stop-color="#dbdbdb" stop-opacity="0"/><stop offset="0.14" stop-color="#dbdbdb" stop-opacity="1"/><stop offset="0.93" stop-color="#dbdbdb" stop-opacity="1"/><stop offset="1" stop-color="#dbdbdb" stop-opacity="0"/></linearGradient>
<rect x="536" y="230" width="4" height="580" fill="url(#lg5)"/>
<linearGradient id="lg6" x1="0" y1="0" x2="0" y2="1"><stop offset="0" stop-color="#d6d6d6" stop-opacity="0"/><stop offset="0.25" stop-color="#d6d6d6" stop-opacity="1"/><stop offset="0.93" stop-color="#d6d6d6" stop-opacity="1"/><stop offset="1" stop-color="#d6d6d6" stop-opacity="0"/></linearGradient>
<rect x="1007" y="200" width="2" height="596" fill="url(#lg6)"/>
<linearGradient id="lg7" x1="0" y1="0" x2="0" y2="1"><stop offset="0" stop-color="#cccccc" stop-opacity="0"/><stop offset="0.24" stop-color="#cccccc" stop-opacity="1"/><stop offset="0.76" stop-color="#cccccc" stop-opacity="1"/><stop offset="1" stop-color="#cccccc" stop-opacity="0"/></linearGradient>
<rect x="1742.25" y="515" width="1.5" height="125" fill="url(#lg7)"/>
<linearGradient id="lg8" x1="0" y1="0" x2="0" y2="1"><stop offset="0" stop-color="#d6d6d6" stop-opacity="0"/><stop offset="0.32" stop-color="#d6d6d6" stop-opacity="1"/><stop offset="0.89" stop-color="#d6d6d6" stop-opacity="1"/><stop offset="1" stop-color="#d6d6d6" stop-opacity="0"/></linearGradient>
<rect x="1974" y="440" width="2" height="186" fill="url(#lg8)"/>
<linearGradient id="lg9" x1="0" y1="0" x2="0" y2="1"><stop offset="0" stop-color="#d6d6d6" stop-opacity="0"/><stop offset="0.24" stop-color="#d6d6d6" stop-opacity="1"/><stop offset="0.88" stop-color="#d6d6d6" stop-opacity="1"/><stop offset="1" stop-color="#d6d6d6" stop-opacity="0"/></linearGradient>
<rect x="2283" y="430" width="2" height="170" fill="url(#lg9)"/>
<linearGradient id="lg10" x1="0" y1="0" x2="0" y2="1"><stop offset="0" stop-color="#bababa"/><stop offset="0.53" stop-color="#bababa" stop-opacity="1"/><stop offset="1" stop-color="#bababa" stop-opacity="0"/></linearGradient>
<rect x="1117" y="162" width="6" height="128" fill="url(#lg10)"/>
<linearGradient id="lg11" x1="0" y1="0" x2="0" y2="1"><stop offset="0" stop-color="#bababa"/><stop offset="0.53" stop-color="#bababa" stop-opacity="1"/><stop offset="1" stop-color="#bababa" stop-opacity="0"/></linearGradient>
<rect x="1197.5" y="162" width="5" height="128" fill="url(#lg11)"/>
<linearGradient id="lg12" x1="0" y1="0" x2="0" y2="1"><stop offset="0" stop-color="#bababa"/><stop offset="0.49" stop-color="#bababa" stop-opacity="1"/><stop offset="1" stop-color="#bababa" stop-opacity="0"/></linearGradient>
<rect x="1971" y="162" width="4" height="118" fill="url(#lg12)"/>
<linearGradient id="lg13" x1="0" y1="0" x2="0" y2="1"><stop offset="0" stop-color="#bdbdbd"/><stop offset="0.62" stop-color="#bdbdbd" stop-opacity="1"/><stop offset="1" stop-color="#bdbdbd" stop-opacity="0"/></linearGradient>
<rect x="2091" y="162" width="4" height="158" fill="url(#lg13)"/>
<linearGradient id="lg14" x1="0" y1="0" x2="0" y2="1"><stop offset="0" stop-color="#adadad" stop-opacity="0"/><stop offset="0.09" stop-color="#adadad" stop-opacity="1"/><stop offset="1" stop-color="#adadad"/></linearGradient>
<rect x="540" y="790" width="2" height="108" fill="url(#lg14)"/>
<linearGradient id="lg15" x1="0" y1="0" x2="0" y2="1"><stop offset="0" stop-color="#d6d6d6" stop-opacity="0"/><stop offset="0.16" stop-color="#d6d6d6" stop-opacity="1"/><stop offset="0.74" stop-color="#d6d6d6" stop-opacity="1"/><stop offset="1" stop-color="#d6d6d6" stop-opacity="0"/></linearGradient>
<rect x="1415.5" y="735" width="3" height="95" fill="url(#lg15)"/>
<linearGradient id="lg16" x1="0" y1="0" x2="0" y2="1"><stop offset="0" stop-color="#d4d4d4" stop-opacity="0"/><stop offset="0.16" stop-color="#d4d4d4" stop-opacity="1"/><stop offset="0.74" stop-color="#d4d4d4" stop-opacity="1"/><stop offset="1" stop-color="#d4d4d4" stop-opacity="0"/></linearGradient>
<rect x="1468.5" y="740" width="3" height="95" fill="url(#lg16)"/>
<linearGradient id="lg17" x1="0" y1="0" x2="0" y2="1"><stop offset="0" stop-color="#d6d6d6" stop-opacity="0"/><stop offset="0.14" stop-color="#d6d6d6" stop-opacity="1"/><stop offset="0.77" stop-color="#d6d6d6" stop-opacity="1"/><stop offset="1" stop-color="#d6d6d6" stop-opacity="0"/></linearGradient>
<rect x="1486" y="720" width="2" height="110" fill="url(#lg17)"/>
<linearGradient id="lg18" x1="0" y1="0" x2="0" y2="1"><stop offset="0" stop-color="#dbdbdb" stop-opacity="0"/><stop offset="0.19" stop-color="#dbdbdb" stop-opacity="1"/><stop offset="0.69" stop-color="#dbdbdb" stop-opacity="1"/><stop offset="1" stop-color="#dbdbdb" stop-opacity="0"/></linearGradient>
<rect x="1520.5" y="745" width="3" height="80" fill="url(#lg18)"/>
<linearGradient id="lg19" x1="0" y1="0" x2="0" y2="1"><stop offset="0" stop-color="#d1d1d1" stop-opacity="0"/><stop offset="0.15" stop-color="#d1d1d1" stop-opacity="1"/><stop offset="0.75" stop-color="#d1d1d1" stop-opacity="1"/><stop offset="1" stop-color="#d1d1d1" stop-opacity="0"/></linearGradient>
<rect x="1529" y="700" width="2" height="100" fill="url(#lg19)"/>
<linearGradient id="lg20" x1="0" y1="0" x2="0" y2="1"><stop offset="0" stop-color="#d6d6d6" stop-opacity="0"/><stop offset="0.17" stop-color="#d6d6d6" stop-opacity="1"/><stop offset="0.72" stop-color="#d6d6d6" stop-opacity="1"/><stop offset="1" stop-color="#d6d6d6" stop-opacity="0"/></linearGradient>
<rect x="1586.5" y="730" width="3" height="88" fill="url(#lg20)"/>
<linearGradient id="lg21" x1="0" y1="0" x2="0" y2="1"><stop offset="0" stop-color="#d1d1d1" stop-opacity="0"/><stop offset="0.24" stop-color="#d1d1d1" stop-opacity="1"/><stop offset="0.68" stop-color="#d1d1d1" stop-opacity="1"/><stop offset="1" stop-color="#d1d1d1" stop-opacity="0"/></linearGradient>
<rect x="1624" y="770" width="2" height="62" fill="url(#lg21)"/>
<linearGradient id="lg22" x1="0" y1="0" x2="0" y2="1"><stop offset="0" stop-color="#d6d6d6" stop-opacity="0"/><stop offset="0.17" stop-color="#d6d6d6" stop-opacity="1"/><stop offset="0.77" stop-color="#d6d6d6" stop-opacity="1"/><stop offset="1" stop-color="#d6d6d6" stop-opacity="0"/></linearGradient>
<rect x="1750" y="740" width="2" height="86" fill="url(#lg22)"/>
<linearGradient id="lg23" x1="0" y1="0" x2="0" y2="1"><stop offset="0" stop-color="#d1d1d1" stop-opacity="0"/><stop offset="0.18" stop-color="#d1d1d1" stop-opacity="1"/><stop offset="0.76" stop-color="#d1d1d1" stop-opacity="1"/><stop offset="1" stop-color="#d1d1d1" stop-opacity="0"/></linearGradient>
<rect x="1394" y="760" width="2" height="82" fill="url(#lg23)"/>
<linearGradient id="lg24" x1="0" y1="0" x2="0" y2="1"><stop offset="0" stop-color="#d4d4d4" stop-opacity="0"/><stop offset="0.17" stop-color="#d4d4d4" stop-opacity="1"/><stop offset="0.78" stop-color="#d4d4d4" stop-opacity="1"/><stop offset="1" stop-color="#d4d4d4" stop-opacity="0"/></linearGradient>
<rect x="2068" y="730" width="4" height="115" fill="url(#lg24)"/>
<linearGradient id="lg25" x1="0" y1="0" x2="0" y2="1"><stop offset="0" stop-color="#d4d4d4" stop-opacity="0"/><stop offset="0.17" stop-color="#d4d4d4" stop-opacity="1"/><stop offset="0.83" stop-color="#d4d4d4" stop-opacity="1"/><stop offset="1" stop-color="#d4d4d4" stop-opacity="0"/></linearGradient>
<rect x="2077" y="505" width="2" height="121" fill="url(#lg25)"/>
<linearGradient id="lg26" x1="0" y1="0" x2="0" y2="1"><stop offset="0" stop-color="#bdbdbd"/><stop offset="0.75" stop-color="#bdbdbd" stop-opacity="1"/><stop offset="1" stop-color="#bdbdbd" stop-opacity="0"/></linearGradient>
<rect x="1401.5" y="162" width="3" height="238" fill="url(#lg26)"/>
<path d="M636 490L650 580L663 656" stroke="#d6d6d6" stroke-width="2.5" fill="none" stroke-linecap="round" stroke-linejoin="round" filter="url(#bl1)"/>
<path d="M934 576L950 640L968 682" stroke="#d1d1d1" stroke-width="3" fill="none" stroke-linecap="round" stroke-linejoin="round" filter="url(#bl1)"/>
<path d="M1153 619L1163 677" stroke="#d1d1d1" stroke-width="2" fill="none" stroke-linecap="round" stroke-linejoin="round" filter="url(#bl1)"/>
<path d="M1752 515L1762 590L1771 651L1774 758L1771 821" stroke="#d6d6d6" stroke-width="2" fill="none" stroke-linecap="round" stroke-linejoin="round" filter="url(#bl1)"/>
<path d="M1755 548L1768 600" stroke="#dbdbdb" stroke-width="4" fill="none" stroke-linecap="round" stroke-linejoin="round" filter="url(#bl1)"/>
<path d="M1771 606L1794 649" stroke="#d6d6d6" stroke-width="3" fill="none" stroke-linecap="round" stroke-linejoin="round" filter="url(#bl1)"/>
<path d="M1895 586L1900 624" stroke="#d1d1d1" stroke-width="2" fill="none" stroke-linecap="round" stroke-linejoin="round" filter="url(#bl1)"/>
<path d="M1910 619L1923 707" stroke="#d1d1d1" stroke-width="2" fill="none" stroke-linecap="round" stroke-linejoin="round" filter="url(#bl1)"/>
<path d="M2275 687L2281 625L2288 604L2296 625L2301 687" stroke="#dbdbdb" stroke-width="3" fill="none" stroke-linecap="round" stroke-linejoin="round" filter="url(#bl1)"/>
<path d="M2516 576L2539 624" stroke="#d6d6d6" stroke-width="3" fill="none" stroke-linecap="round" stroke-linejoin="round" filter="url(#bl1)"/>
<path d="M2556 576L2558 657" stroke="#cccccc" stroke-width="2" fill="none" stroke-linecap="round" stroke-linejoin="round" filter="url(#bl1)"/>
<path d="M779 600L796 706" stroke="#d1d1d1" stroke-width="2.5" fill="none" stroke-linecap="round" stroke-linejoin="round" filter="url(#bl1)"/>
<path d="M806 625L813 756" stroke="#d1d1d1" stroke-width="2.5" fill="none" stroke-linecap="round" stroke-linejoin="round" filter="url(#bl1)"/>
<path d="M2149 576L2160 687" stroke="#cccccc" stroke-width="3" fill="none" stroke-linecap="round" stroke-linejoin="round" filter="url(#bl1)"/>
<path d="M2166 576L2172 690" stroke="#d1d1d1" stroke-width="3" fill="none" stroke-linecap="round" stroke-linejoin="round" filter="url(#bl1)"/>
<path d="M2065 657L2083 720" stroke="#cccccc" stroke-width="3" fill="none" stroke-linecap="round" stroke-linejoin="round" filter="url(#bl1)"/>
<path d="M1287 606L1296 660L1307 727" stroke="#d1d1d1" stroke-width="3" fill="none" stroke-linecap="round" stroke-linejoin="round" filter="url(#bl1)"/>
<path d="M1335 630L1350 626L1368 640" stroke="#cccccc" stroke-width="3" fill="none" stroke-linecap="round" stroke-linejoin="round" filter="url(#bl1)"/>
<path d="M1474 619L1482 640L1490 657" stroke="#d1d1d1" stroke-width="3" fill="none" stroke-linecap="round" stroke-linejoin="round" filter="url(#bl1)"/>
<path d="M1130 580L1140 640" stroke="#cccccc" stroke-width="2" fill="none" stroke-linecap="round" stroke-linejoin="round" filter="url(#bl1)"/>
</g>
<path d="M692.5 898v-22M692.5 162v22M1011.5 898v-22M1011.5 162v22M1331.5 898v-22M1331.5 162v22M1650.5 898v-22M1650.5 162v22M1969.5 898v-22M1969.5 162v22M2288.5 898v-22M2288.5 162v22M374 897.5h23M2606 897.5h-23M374 745.5h23M2606 745.5h-23M374 591.5h23M2606 591.5h-23M374 438.5h23M2606 438.5h-23M374 285.5h23M2606 285.5h-23" stroke="#000" stroke-width="1" fill="none" shape-rendering="crispEdges"/>
<rect x="374.5" y="162.5" width="2232" height="736" fill="none" stroke="#000" stroke-width="1" shape-rendering="crispEdges"/>
<text transform="translate(359,530) rotate(-90)" x="0" y="0" text-anchor="middle" class="t">Freq [0, 10875] Hz</text>
<rect x="374" y="1185" width="638" height="53" fill="#0000d0"/>
<rect x="1012" y="1817" width="1276" height="53" fill="#7f0000"/>
<rect x="2288" y="1448" width="318" height="53" fill="#66ff99"/>
<path d="M380.5 1188V1922M457.5 1188V1922M533.5 1188V1922M610.5 1188V1922M686.5 1188V1922M763.5 1188V1922M839.5 1188V1922M916.5 1188V1922M992.5 1188V1922M1069.5 1188V1922M1146.5 1188V1922M1222.5 1188V1922M1299.5 1188V1922M1375.5 1188V1922M1452.5 1188V1922M1528.5 1188V1922M1605.5 1188V1922M1681.5 1188V1922M1758.5 1188V1922M1834.5 1188V1922M1911.5 1188V1922M1988.5 1188V1922M2064.5 1188V1922M2141.5 1188V1922M2217.5 1188V1922M2294.5 1188V1922M2370.5 1188V1922M2447.5 1188V1922M2523.5 1188V1922M2600.5 1188V1922M380 1211.5H2603M380 1264.5H2603M380 1316.5H2603M380 1369.5H2603M380 1422.5H2603M380 1474.5H2603M380 1527.5H2603M380 1580.5H2603M380 1633.5H2603M380 1685.5H2603M380 1738.5H2603M380 1791.5H2603M380 1843.5H2603M380 1896.5H2603" stroke="#000" stroke-width="1" stroke-dasharray="1 3.5 2 2.5" fill="none"/>
<path d="M533.5 1922v-22M533.5 1185v22M916.5 1922v-22M916.5 1185v22M1299.5 1922v-22M1299.5 1185v22M1681.5 1922v-22M1681.5 1185v22M2064.5 1922v-22M2064.5 1185v22M2447.5 1922v-22M2447.5 1185v22M374 1264.5h23M2606 1264.5h-23M374 1369.5h23M2606 1369.5h-23M374 1474.5h23M2606 1474.5h-23M374 1580.5h23M2606 1580.5h-23M374 1685.5h23M2606 1685.5h-23M374 1791.5h23M2606 1791.5h-23M374 1896.5h23M2606 1896.5h-23" stroke="#000" stroke-width="1" fill="none" shape-rendering="crispEdges"/>
<rect x="374.5" y="1185.5" width="2232" height="737" fill="none" stroke="#000" stroke-width="1" shape-rendering="crispEdges"/>
<text x="533.5" y="1958" text-anchor="middle" class="t">0</text>
<text x="916.5" y="1958" text-anchor="middle" class="t">2</text>
<text x="1299.5" y="1958" text-anchor="middle" class="t">5</text>
<text x="1681.5" y="1958" text-anchor="middle" class="t">8</text>
<text x="2064.5" y="1958" text-anchor="middle" class="t">11</text>
<text x="2447.5" y="1958" text-anchor="middle" class="t">14</text>
<text x="371" y="1276.5" text-anchor="end" class="t">2</text>
<text x="371" y="1381.5" text-anchor="end" class="t">4</text>
<text x="371" y="1486.5" text-anchor="end" class="t">6</text>
<text x="371" y="1592.5" text-anchor="end" class="t">8</text>
<text x="371" y="1697.5" text-anchor="end" class="t">10</text>
<text x="371" y="1803.5" text-anchor="end" class="t">12</text>
<text x="371" y="1908.5" text-anchor="end" class="t">14</text>
<text x="1492" y="1988.4" text-anchor="middle" class="t">Temps en secondes</text>
<text transform="translate(320,1554) rotate(-90)" x="0" y="0" text-anchor="middle" class="t">Unites de sons</text>
</svg>
</body></html>
